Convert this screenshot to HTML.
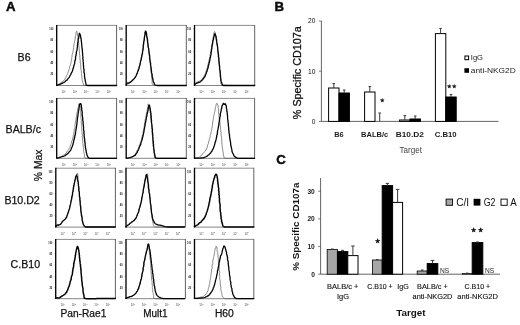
<!DOCTYPE html>
<html lang="en"><head><meta charset="utf-8"><title>Figure</title>
<style>html,body{margin:0;padding:0;background:#fff}body{width:520px;height:325px;overflow:hidden}svg{display:block}text{font-family:"Liberation Sans",sans-serif}</style></head><body>
<svg width="520" height="325" viewBox="0 0 520 325">
<rect width="520" height="325" fill="#fff"/>
<g id="panelA">
<text x="5.9" y="11.1" font-size="13.2" font-weight="bold" fill="#0a0a0a" stroke="#0a0a0a" stroke-width="0.45">A</text>
<path d="M56.60 25.40H116.60" stroke="#808080" stroke-width="0.9" fill="none"/>
<path d="M116.60 25.00V85.50" stroke="#505050" stroke-width="0.9" fill="none"/>
<path d="M56.60 85.50H116.60" stroke="#666" stroke-width="0.8" fill="none"/>
<text x="49.30" y="30.10" font-size="3.2" font-weight="bold" fill="#222" textLength="4.0" lengthAdjust="spacingAndGlyphs">100</text>
<path d="M56.60 29.00 h-1.4" stroke="#888" stroke-width="0.4"/>
<text x="50.40" y="41.40" font-size="3.2" font-weight="bold" fill="#222" textLength="2.9" lengthAdjust="spacingAndGlyphs">80</text>
<path d="M56.60 40.30 h-1.4" stroke="#888" stroke-width="0.4"/>
<text x="50.40" y="52.70" font-size="3.2" font-weight="bold" fill="#222" textLength="2.9" lengthAdjust="spacingAndGlyphs">60</text>
<path d="M56.60 51.60 h-1.4" stroke="#888" stroke-width="0.4"/>
<text x="50.40" y="64.00" font-size="3.2" font-weight="bold" fill="#222" textLength="2.9" lengthAdjust="spacingAndGlyphs">40</text>
<path d="M56.60 62.90 h-1.4" stroke="#888" stroke-width="0.4"/>
<text x="50.40" y="75.30" font-size="3.2" font-weight="bold" fill="#222" textLength="2.9" lengthAdjust="spacingAndGlyphs">20</text>
<path d="M56.60 74.20 h-1.4" stroke="#888" stroke-width="0.4"/>
<text x="63.60" y="93.10" font-size="2.8" text-anchor="middle" fill="#444">10<tspan dy="-1.3" font-size="2.1">1</tspan></text>
<text x="74.90" y="93.10" font-size="2.8" text-anchor="middle" fill="#444">10<tspan dy="-1.3" font-size="2.1">2</tspan></text>
<text x="86.20" y="93.10" font-size="2.8" text-anchor="middle" fill="#444">10<tspan dy="-1.3" font-size="2.1">3</tspan></text>
<text x="97.50" y="93.10" font-size="2.8" text-anchor="middle" fill="#444">10<tspan dy="-1.3" font-size="2.1">4</tspan></text>
<text x="108.80" y="93.10" font-size="2.8" text-anchor="middle" fill="#444">10<tspan dy="-1.3" font-size="2.1">5</tspan></text>
<path d="M56.6 85.5L57.1 85.2L57.8 84.8L58.6 84.3L59.4 83.8L60.3 83.3L61.3 82.4L61.8 82.1L62.5 81.3L63.5 80.8L64.0 80.3L64.4 79.5L65.0 79.1L65.5 78.1L66.1 76.8L66.4 76.4L66.5 75.5L67.1 74.9L67.4 74.4L67.7 73.6L67.9 72.7L68.2 71.9L68.7 70.6L68.7 69.8L69.4 68.9L69.5 67.9L69.7 66.9L69.9 66.0L70.3 65.3L70.5 64.5L70.8 63.6L70.9 62.3L71.2 61.7L71.4 60.6L71.5 59.4L71.8 58.6L71.7 57.4L72.1 56.8L72.0 55.7L72.3 54.5L72.4 53.8L72.8 52.6L72.9 51.7L73.1 50.9L73.4 50.2L73.4 49.2L73.5 47.7L73.7 46.7L73.7 45.9L74.1 44.9L74.0 44.2L74.2 43.4L74.6 42.2L74.6 41.4L74.8 40.6L74.9 39.8L75.2 39.0L75.2 37.9L75.3 36.4L75.9 35.3L75.9 34.0L76.0 33.3L76.0 32.5L76.5 31.6L76.7 31.4L77.0 31.3L77.2 32.3L77.2 33.3L77.7 35.2L77.6 35.7L77.9 36.4L77.9 37.2L78.0 38.3L78.1 39.2L78.4 40.1L78.5 41.7L78.5 42.9L78.8 43.6L78.6 44.5L78.9 45.2L78.8 46.1L79.1 47.1L79.2 47.9L79.1 49.1L79.4 50.0L79.2 50.8L79.4 51.9L79.6 53.2L79.4 54.0L79.8 55.1L79.9 56.0L79.7 57.0L80.0 57.9L79.9 59.0L80.1 59.9L80.4 60.8L80.1 62.1L80.5 63.1L80.4 64.1L80.7 64.8L80.8 66.1L80.8 67.0L80.8 67.9L80.8 68.8L81.1 69.9L81.3 70.7L81.4 71.9L81.5 72.8L81.6 73.5L81.3 74.4L81.5 74.9L81.8 76.3L81.9 77.6L82.1 78.4L82.1 79.6L82.3 80.4L82.4 80.9L82.7 81.9L82.7 82.5L83.2 83.1L83.3 84.3L83.6 85.0L85.0 85.4L85.6 85.5L86.2 85.5L116.6 85.5" fill="none" stroke="#555" stroke-width="0.7" stroke-linejoin="round"/>
<path d="M56.70 25.00V85.80" fill="none" stroke="#050505" stroke-width="1.35" stroke-linecap="butt"/>
<path d="M56.6 85.1L57.2 85.2L57.9 85.0L58.9 84.6L59.9 84.3L61.1 83.7L62.0 83.5L62.7 82.9L63.6 82.6L64.4 82.2L65.3 81.5L65.8 80.9L66.4 80.3L67.3 79.9L67.6 79.1L68.3 78.4L68.9 77.7L69.5 76.8L69.9 75.9L70.3 75.2L70.9 74.4L71.1 73.4L71.6 72.7L72.1 71.7L72.5 70.9L72.7 69.9L73.0 69.1L73.2 68.2L73.5 67.3L73.8 66.6L73.8 65.7L74.1 65.0L74.5 64.0L74.7 63.2L74.7 62.1L74.9 61.1L75.2 60.3L75.4 59.4L75.6 58.5L75.5 57.6L75.6 56.5L76.1 55.5L76.0 54.5L76.4 53.5L76.3 52.8L76.4 51.8L76.8 50.9L77.0 49.9L77.1 48.8L77.2 48.0L77.4 46.9L77.5 46.2L77.4 45.0L77.7 44.2L77.7 43.0L77.9 42.3L78.2 41.3L78.1 40.5L78.2 39.7L78.2 39.0L78.8 37.7L78.9 36.4L79.0 35.5L79.1 34.5L79.2 33.9L79.5 33.3L79.7 33.7L80.5 35.4L80.5 36.1L80.6 36.6L80.7 37.5L80.9 38.2L81.2 39.5L81.2 40.5L81.4 41.7L81.6 42.9L81.6 43.6L81.7 44.5L81.7 45.3L81.9 46.3L81.9 47.3L82.1 48.1L82.2 49.1L82.4 50.0L82.3 51.1L82.5 52.0L82.6 53.2L82.6 53.9L82.6 55.1L82.8 56.2L83.0 57.0L82.8 58.0L82.9 59.1L83.2 60.1L83.1 61.1L83.2 61.9L83.4 62.8L83.3 64.0L83.4 64.9L83.6 66.0L83.5 66.9L83.7 67.9L83.7 68.9L84.1 69.8L84.0 70.7L84.0 71.8L84.0 72.7L84.4 73.3L84.5 74.2L84.5 75.1L84.5 76.3L84.8 77.5L84.8 78.5L85.2 79.5L85.2 80.3L85.3 81.2L85.6 82.1L85.7 82.7L85.9 83.5L86.0 84.0L86.3 85.3L88.0 85.5L116.6 85.5" fill="none" stroke="#050505" stroke-width="1.30" stroke-linejoin="round" stroke-linecap="round"/>
<path d="M126.10 25.40H186.30" stroke="#808080" stroke-width="0.9" fill="none"/>
<path d="M186.30 25.00V85.50" stroke="#505050" stroke-width="0.9" fill="none"/>
<path d="M126.10 85.50H186.30" stroke="#666" stroke-width="0.8" fill="none"/>
<text x="118.80" y="30.10" font-size="3.2" font-weight="bold" fill="#222" textLength="4.0" lengthAdjust="spacingAndGlyphs">100</text>
<path d="M126.10 29.00 h-1.4" stroke="#888" stroke-width="0.4"/>
<text x="119.90" y="41.40" font-size="3.2" font-weight="bold" fill="#222" textLength="2.9" lengthAdjust="spacingAndGlyphs">80</text>
<path d="M126.10 40.30 h-1.4" stroke="#888" stroke-width="0.4"/>
<text x="119.90" y="52.70" font-size="3.2" font-weight="bold" fill="#222" textLength="2.9" lengthAdjust="spacingAndGlyphs">60</text>
<path d="M126.10 51.60 h-1.4" stroke="#888" stroke-width="0.4"/>
<text x="119.90" y="64.00" font-size="3.2" font-weight="bold" fill="#222" textLength="2.9" lengthAdjust="spacingAndGlyphs">40</text>
<path d="M126.10 62.90 h-1.4" stroke="#888" stroke-width="0.4"/>
<text x="119.90" y="75.30" font-size="3.2" font-weight="bold" fill="#222" textLength="2.9" lengthAdjust="spacingAndGlyphs">20</text>
<path d="M126.10 74.20 h-1.4" stroke="#888" stroke-width="0.4"/>
<text x="133.10" y="93.10" font-size="2.8" text-anchor="middle" fill="#444">10<tspan dy="-1.3" font-size="2.1">1</tspan></text>
<text x="144.40" y="93.10" font-size="2.8" text-anchor="middle" fill="#444">10<tspan dy="-1.3" font-size="2.1">2</tspan></text>
<text x="155.70" y="93.10" font-size="2.8" text-anchor="middle" fill="#444">10<tspan dy="-1.3" font-size="2.1">3</tspan></text>
<text x="167.00" y="93.10" font-size="2.8" text-anchor="middle" fill="#444">10<tspan dy="-1.3" font-size="2.1">4</tspan></text>
<text x="178.30" y="93.10" font-size="2.8" text-anchor="middle" fill="#444">10<tspan dy="-1.3" font-size="2.1">5</tspan></text>
<path d="M126.0 85.5L126.5 85.2L127.1 84.7L127.9 84.2L128.6 83.8L129.7 82.8L130.7 82.1L131.2 81.7L132.0 81.0L132.8 80.3L133.2 79.5L133.7 79.0L134.6 78.2L135.1 77.3L135.4 76.5L136.2 75.4L136.4 74.7L136.9 74.0L137.0 73.2L137.4 72.5L137.7 71.7L137.9 70.5L138.2 69.4L138.8 68.6L138.9 67.3L139.2 66.7L139.6 65.9L139.7 64.8L139.8 63.9L140.1 63.2L140.2 62.1L140.7 61.0L140.9 60.5L141.2 59.2L141.2 58.3L141.5 57.5L141.7 56.3L142.0 55.4L142.0 54.5L141.9 53.6L142.4 52.6L142.5 51.6L142.5 50.7L142.6 49.7L143.0 48.7L143.1 48.0L143.3 46.7L143.4 45.9L143.2 44.9L143.4 43.8L143.7 43.3L143.7 42.4L144.0 41.3L144.2 40.6L144.3 39.6L144.4 38.3L144.6 37.3L144.7 36.0L144.8 34.9L144.6 33.6L144.7 32.7L144.9 32.0L145.2 31.4L145.2 30.9L145.3 30.6L145.7 30.6L145.7 31.3L146.1 31.9L146.1 33.1L146.4 34.3L146.4 35.6L146.9 36.8L146.9 37.6L146.9 38.4L147.1 39.2L147.1 40.1L147.3 41.1L147.3 41.8L147.6 43.0L147.9 43.8L147.9 45.0L147.8 46.4L148.1 47.2L148.3 48.0L148.5 48.9L148.3 49.6L148.7 50.6L148.8 51.6L149.0 52.4L148.8 53.3L149.2 54.4L149.1 55.2L149.4 56.5L149.4 57.1L149.3 58.1L149.5 59.1L149.6 60.3L150.0 61.1L150.2 62.1L150.2 63.3L150.4 63.8L150.2 65.0L150.6 65.8L150.4 67.2L150.5 68.0L150.7 69.2L151.0 70.0L151.1 71.3L151.2 72.2L151.4 73.2L151.2 74.1L151.5 75.2L151.4 76.0L151.7 77.1L151.8 77.8L151.8 78.5L152.0 79.1L152.0 80.1L152.2 81.6L152.0 83.2L152.3 84.0L152.6 84.5L153.6 85.0L154.2 85.2L154.8 85.3L155.6 85.4L156.4 85.5L186.3 85.5" fill="none" stroke="#555" stroke-width="0.7" stroke-linejoin="round"/>
<path d="M126.20 25.00V85.80" fill="none" stroke="#050505" stroke-width="1.35" stroke-linecap="butt"/>
<path d="M126.1 85.1L126.4 84.0L127.1 83.0L128.0 83.1L128.9 83.0L129.5 82.7L130.5 82.2L131.2 81.6L131.8 81.1L132.4 80.3L133.0 79.9L133.7 79.0L134.2 78.7L134.8 77.8L135.4 77.0L136.0 76.1L136.4 75.2L136.6 74.4L137.2 73.6L137.2 73.1L137.6 72.2L137.9 71.1L138.3 70.3L138.7 69.2L139.1 68.1L139.2 67.3L139.4 66.3L139.8 65.6L140.0 64.6L140.1 63.8L140.4 62.7L140.5 61.9L140.6 60.9L141.1 59.9L141.3 59.0L141.3 57.9L141.8 56.9L141.8 55.8L141.9 54.9L142.3 54.2L142.5 53.3L142.5 52.3L142.6 51.2L142.9 50.4L143.1 49.3L143.1 48.2L143.3 47.5L143.2 46.5L143.3 45.2L143.6 44.4L143.6 43.6L143.6 42.7L143.8 41.8L143.9 41.1L144.3 39.7L144.2 38.5L144.5 37.2L144.6 36.2L144.9 35.1L145.2 34.1L145.1 32.9L145.2 32.3L145.5 31.7L145.5 31.5L145.8 31.4L146.2 32.1L146.2 32.9L146.7 34.1L146.6 35.6L147.0 36.9L147.0 37.6L147.3 38.5L147.5 39.4L147.7 39.9L147.5 40.7L147.7 41.7L147.7 42.8L147.8 43.7L148.0 44.9L148.2 45.8L148.2 47.0L148.5 47.9L148.8 48.7L148.6 49.4L148.9 50.5L148.9 51.4L149.1 52.2L149.1 53.1L149.4 54.4L149.6 55.2L149.6 56.4L149.8 57.3L149.8 58.3L149.8 59.1L150.1 60.4L150.2 61.1L150.2 62.1L150.5 63.0L150.7 63.9L150.6 65.0L150.8 66.2L151.1 67.2L151.1 67.9L151.2 69.1L151.3 70.0L151.5 71.2L151.5 72.1L151.7 73.0L152.0 74.0L152.1 74.6L152.3 75.4L152.2 76.4L152.3 76.9L152.8 78.5L152.9 79.5L153.1 80.5L153.4 81.7L153.6 82.2L154.0 82.8L154.4 83.7L154.8 84.6L155.3 85.1L157.0 85.4L157.6 85.5L158.3 85.5L186.3 85.5" fill="none" stroke="#050505" stroke-width="1.30" stroke-linejoin="round" stroke-linecap="round"/>
<path d="M194.40 25.40H254.70" stroke="#808080" stroke-width="0.9" fill="none"/>
<path d="M254.70 25.00V85.50" stroke="#505050" stroke-width="0.9" fill="none"/>
<path d="M194.40 85.50H254.70" stroke="#666" stroke-width="0.8" fill="none"/>
<text x="187.10" y="30.10" font-size="3.2" font-weight="bold" fill="#222" textLength="4.0" lengthAdjust="spacingAndGlyphs">100</text>
<path d="M194.40 29.00 h-1.4" stroke="#888" stroke-width="0.4"/>
<text x="188.20" y="41.40" font-size="3.2" font-weight="bold" fill="#222" textLength="2.9" lengthAdjust="spacingAndGlyphs">80</text>
<path d="M194.40 40.30 h-1.4" stroke="#888" stroke-width="0.4"/>
<text x="188.20" y="52.70" font-size="3.2" font-weight="bold" fill="#222" textLength="2.9" lengthAdjust="spacingAndGlyphs">60</text>
<path d="M194.40 51.60 h-1.4" stroke="#888" stroke-width="0.4"/>
<text x="188.20" y="64.00" font-size="3.2" font-weight="bold" fill="#222" textLength="2.9" lengthAdjust="spacingAndGlyphs">40</text>
<path d="M194.40 62.90 h-1.4" stroke="#888" stroke-width="0.4"/>
<text x="188.20" y="75.30" font-size="3.2" font-weight="bold" fill="#222" textLength="2.9" lengthAdjust="spacingAndGlyphs">20</text>
<path d="M194.40 74.20 h-1.4" stroke="#888" stroke-width="0.4"/>
<text x="201.40" y="93.10" font-size="2.8" text-anchor="middle" fill="#444">10<tspan dy="-1.3" font-size="2.1">1</tspan></text>
<text x="212.70" y="93.10" font-size="2.8" text-anchor="middle" fill="#444">10<tspan dy="-1.3" font-size="2.1">2</tspan></text>
<text x="224.00" y="93.10" font-size="2.8" text-anchor="middle" fill="#444">10<tspan dy="-1.3" font-size="2.1">3</tspan></text>
<text x="235.30" y="93.10" font-size="2.8" text-anchor="middle" fill="#444">10<tspan dy="-1.3" font-size="2.1">4</tspan></text>
<text x="246.60" y="93.10" font-size="2.8" text-anchor="middle" fill="#444">10<tspan dy="-1.3" font-size="2.1">5</tspan></text>
<path d="M194.2 85.5L194.6 84.7L195.3 83.6L196.1 82.4L196.8 82.4L197.7 81.8L199.0 81.4L200.0 80.8L200.6 80.6L201.3 79.9L202.1 79.1L203.0 78.1L203.4 76.8L204.1 76.2L204.3 75.7L204.9 74.6L205.3 74.0L205.4 73.0L205.8 72.4L206.1 71.0L206.4 69.8L206.8 69.4L206.9 68.3L207.5 67.8L207.8 66.6L207.7 66.0L208.0 65.0L208.2 63.7L208.4 63.1L208.8 62.0L208.9 61.0L209.1 60.0L209.5 58.9L209.6 58.2L209.9 57.0L210.2 56.3L210.0 55.1L210.2 54.1L210.7 53.3L210.8 52.1L210.6 51.5L211.1 50.5L211.2 49.3L211.4 48.2L211.5 47.4L211.4 46.6L211.6 45.6L211.8 44.7L211.9 44.0L212.4 43.1L212.5 41.9L212.5 41.0L212.6 39.6L212.9 39.0L213.0 38.0L213.1 37.4L213.3 36.4L213.5 35.8L213.8 35.0L213.9 33.5L214.0 32.2L214.7 31.6L214.6 31.6L214.9 32.0L215.1 32.2L215.3 33.3L215.4 34.4L215.7 35.3L215.7 36.6L216.0 37.9L216.2 38.9L216.3 39.3L216.2 40.3L216.5 41.0L216.4 42.0L216.6 42.8L216.9 44.1L217.0 45.0L217.3 46.0L217.5 46.9L217.5 47.7L217.7 48.9L217.7 50.1L217.7 50.9L218.0 51.9L217.8 52.6L218.0 53.5L218.3 54.5L218.2 55.5L218.4 56.5L218.5 57.6L218.5 58.3L218.9 59.6L218.6 60.5L219.0 61.7L218.8 62.2L219.0 63.3L219.3 64.5L219.1 65.2L219.3 66.3L219.3 67.0L219.3 68.1L219.4 69.3L219.7 70.2L219.6 71.1L219.9 72.4L220.0 73.1L220.3 74.3L220.2 75.0L220.2 76.3L220.2 77.0L220.6 77.8L220.7 78.8L220.9 79.4L220.7 79.8L220.9 81.4L220.7 82.8L220.8 83.6L221.3 84.1L222.2 84.6L222.7 84.8L223.4 85.0L224.0 85.1L224.8 85.2L225.6 85.3L226.4 85.3L227.4 85.4L228.3 85.4L229.4 85.4L230.5 85.4L231.6 85.4L232.8 85.5L234.0 85.5L254.7 85.5" fill="none" stroke="#555" stroke-width="0.7" stroke-linejoin="round"/>
<path d="M194.50 25.00V85.80" fill="none" stroke="#050505" stroke-width="1.35" stroke-linecap="butt"/>
<path d="M194.4 85.1L195.0 84.3L196.2 83.3L197.0 83.1L197.7 82.7L198.8 82.5L200.0 82.1L200.8 81.4L201.3 80.9L201.9 80.3L202.7 79.7L203.3 78.7L203.9 78.0L204.4 77.2L204.9 76.5L205.3 75.9L205.4 75.1L205.9 74.1L206.3 73.2L206.6 72.0L207.1 71.1L207.2 70.3L207.4 69.6L207.8 68.5L208.1 67.9L208.1 67.0L208.4 65.8L208.7 64.9L209.0 64.0L209.0 63.0L209.5 62.0L209.6 61.1L209.8 60.0L210.0 59.1L210.1 58.0L210.5 57.2L210.5 56.4L210.8 55.3L211.0 54.4L211.1 53.2L211.0 52.4L211.5 51.3L211.5 50.4L211.6 49.4L211.9 48.4L211.8 47.5L212.1 46.7L212.1 45.8L212.3 45.0L212.6 43.7L212.6 42.8L212.9 41.7L213.0 40.6L213.3 39.9L213.6 38.9L213.6 37.9L213.7 37.2L214.0 36.5L214.2 36.0L214.5 34.0L215.2 33.9L215.3 34.4L215.4 35.1L216.0 36.3L216.2 37.6L216.3 39.1L216.6 39.6L216.6 40.6L216.7 41.3L216.8 42.1L216.9 42.9L217.1 44.0L217.3 44.8L217.4 45.7L217.6 46.7L217.6 47.8L217.7 48.7L217.8 50.0L217.9 51.1L218.1 52.0L218.3 52.8L218.2 53.5L218.4 54.6L218.6 55.4L218.4 56.6L218.8 57.4L218.9 58.3L218.9 59.5L219.0 60.3L218.9 61.5L219.3 62.3L219.1 63.2L219.4 64.3L219.4 65.4L219.6 66.0L219.7 66.8L219.6 68.1L219.7 68.9L219.9 70.1L220.2 71.0L220.2 72.2L220.3 73.2L220.4 74.2L220.3 75.2L220.6 76.0L220.5 77.0L220.6 77.8L220.8 78.6L220.9 79.3L220.8 79.8L221.2 81.4L221.6 82.5L221.9 83.5L222.1 84.1L222.4 84.6L222.4 85.3L224.0 85.5L254.7 85.5" fill="none" stroke="#050505" stroke-width="1.30" stroke-linejoin="round" stroke-linecap="round"/>
<path d="M56.60 98.40H116.60" stroke="#808080" stroke-width="0.9" fill="none"/>
<path d="M116.60 98.00V158.30" stroke="#505050" stroke-width="0.9" fill="none"/>
<path d="M56.60 158.30H116.60" stroke="#666" stroke-width="0.8" fill="none"/>
<text x="49.30" y="103.10" font-size="3.2" font-weight="bold" fill="#222" textLength="4.0" lengthAdjust="spacingAndGlyphs">100</text>
<path d="M56.60 102.00 h-1.4" stroke="#888" stroke-width="0.4"/>
<text x="50.40" y="114.36" font-size="3.2" font-weight="bold" fill="#222" textLength="2.9" lengthAdjust="spacingAndGlyphs">80</text>
<path d="M56.60 113.26 h-1.4" stroke="#888" stroke-width="0.4"/>
<text x="50.40" y="125.62" font-size="3.2" font-weight="bold" fill="#222" textLength="2.9" lengthAdjust="spacingAndGlyphs">60</text>
<path d="M56.60 124.52 h-1.4" stroke="#888" stroke-width="0.4"/>
<text x="50.40" y="136.88" font-size="3.2" font-weight="bold" fill="#222" textLength="2.9" lengthAdjust="spacingAndGlyphs">40</text>
<path d="M56.60 135.78 h-1.4" stroke="#888" stroke-width="0.4"/>
<text x="50.40" y="148.14" font-size="3.2" font-weight="bold" fill="#222" textLength="2.9" lengthAdjust="spacingAndGlyphs">20</text>
<path d="M56.60 147.04 h-1.4" stroke="#888" stroke-width="0.4"/>
<text x="63.60" y="165.90" font-size="2.8" text-anchor="middle" fill="#444">10<tspan dy="-1.3" font-size="2.1">1</tspan></text>
<text x="74.90" y="165.90" font-size="2.8" text-anchor="middle" fill="#444">10<tspan dy="-1.3" font-size="2.1">2</tspan></text>
<text x="86.20" y="165.90" font-size="2.8" text-anchor="middle" fill="#444">10<tspan dy="-1.3" font-size="2.1">3</tspan></text>
<text x="97.50" y="165.90" font-size="2.8" text-anchor="middle" fill="#444">10<tspan dy="-1.3" font-size="2.1">4</tspan></text>
<text x="108.80" y="165.90" font-size="2.8" text-anchor="middle" fill="#444">10<tspan dy="-1.3" font-size="2.1">5</tspan></text>
<path d="M56.6 158.3L57.2 158.1L58.1 157.7L59.1 157.3L60.1 156.9L61.2 156.6L62.0 156.0L62.8 155.3L63.8 155.0L64.3 154.6L65.3 153.9L66.0 152.8L66.7 152.3L67.0 152.0L67.4 151.1L68.1 150.3L68.8 149.6L68.9 148.8L69.3 148.1L70.2 147.2L70.1 146.3L70.5 145.5L70.8 144.6L71.0 143.9L71.3 143.2L71.5 142.3L71.8 141.0L72.3 140.2L72.6 139.2L72.8 137.9L73.1 137.0L73.4 136.0L73.2 135.4L73.7 134.4L73.8 133.6L73.8 132.6L74.1 131.4L74.1 130.7L74.3 129.6L74.4 128.6L74.8 127.7L75.0 126.6L74.9 125.6L75.0 124.6L75.3 123.8L75.3 122.7L75.4 121.9L75.8 120.9L76.1 120.0L76.0 118.9L76.1 118.0L76.5 116.9L76.7 115.8L76.6 114.9L76.8 114.1L77.1 113.3L77.0 112.4L77.3 111.5L77.5 110.7L77.5 110.0L77.9 108.8L78.3 107.3L78.5 106.3L78.7 105.4L78.6 104.5L79.2 103.6L79.2 103.8L79.3 103.9L79.8 104.2L79.6 104.8L80.1 105.9L80.0 107.1L80.4 108.4L80.2 110.2L80.4 110.6L80.7 111.3L80.4 112.4L80.6 112.9L80.9 113.8L81.0 114.8L80.8 115.7L81.0 116.8L81.0 117.8L81.0 118.9L81.4 119.9L81.4 120.7L81.2 121.8L81.2 123.1L81.6 124.1L81.5 124.8L81.6 125.8L81.8 126.8L81.6 127.9L81.7 128.8L81.8 129.7L81.8 130.7L82.0 131.4L82.1 132.5L82.0 133.2L82.2 134.1L82.5 135.2L82.2 136.2L82.3 137.1L82.5 138.1L82.5 139.0L82.6 140.1L82.7 140.9L82.8 141.5L82.7 142.6L82.9 143.2L83.0 144.2L83.1 145.1L83.2 146.1L83.4 147.4L83.5 148.4L83.6 149.6L83.5 150.6L83.6 151.5L83.8 152.3L83.9 152.8L84.2 153.8L84.4 154.5L84.6 154.8L84.5 156.3L84.7 157.3L85.0 157.9L86.0 158.3L116.6 158.3" fill="none" stroke="#555" stroke-width="0.7" stroke-linejoin="round"/>
<path d="M56.70 98.00V158.60" fill="none" stroke="#050505" stroke-width="1.35" stroke-linecap="butt"/>
<path d="M56.6 157.9L57.6 158.2L58.3 158.0L59.1 157.7L60.1 157.3L61.1 157.0L62.1 156.6L63.1 156.4L64.2 156.0L65.1 155.6L65.8 155.1L66.5 154.4L67.5 153.9L68.1 153.2L68.6 152.7L69.2 151.9L70.2 150.9L70.5 150.4L70.9 149.7L71.3 148.6L71.5 148.0L72.1 147.0L72.3 146.0L72.8 145.1L73.0 144.1L73.1 143.3L73.5 142.6L73.6 141.5L73.7 140.9L74.0 139.8L74.3 139.0L74.4 137.9L74.8 137.1L74.8 135.9L75.2 135.1L75.3 134.0L75.6 133.0L75.5 131.9L75.7 131.2L75.9 130.4L76.1 129.2L76.2 128.3L76.4 127.3L76.5 126.3L76.7 125.3L76.8 124.3L77.0 123.3L77.0 122.4L77.2 121.4L77.2 120.4L77.4 119.7L77.3 118.7L77.5 118.2L77.7 116.9L77.8 115.9L78.1 114.9L78.0 113.8L78.3 112.7L78.5 111.9L78.4 111.1L78.7 110.2L78.9 109.4L78.8 108.5L79.0 108.0L79.3 106.6L79.4 105.2L79.7 104.3L80.3 103.9L80.3 103.7L80.7 103.6L81.0 104.2L81.3 105.0L81.3 106.3L81.7 108.1L81.7 108.5L81.7 109.4L81.7 110.3L82.1 111.1L82.1 111.8L82.3 112.6L82.2 113.5L82.2 114.8L82.3 115.7L82.5 116.8L82.7 117.8L82.8 118.6L82.7 119.8L82.9 121.0L83.1 122.1L83.2 122.9L83.1 123.7L83.3 124.6L83.3 125.4L83.4 126.2L83.6 127.1L83.6 128.2L83.5 129.2L83.7 130.3L83.9 131.1L84.0 132.2L83.8 133.1L84.1 134.1L84.2 134.8L84.1 135.8L84.2 136.7L84.4 137.6L84.4 138.3L84.7 139.3L84.6 140.0L84.7 141.2L84.9 142.1L85.1 143.4L85.2 144.2L85.1 145.4L85.5 146.4L85.4 147.4L85.6 148.2L85.8 149.2L85.9 150.1L86.2 150.7L86.2 151.8L86.3 152.4L86.5 152.8L86.9 154.6L87.2 155.6L87.6 156.3L88.0 157.1L88.4 157.6L89.1 158.2L91.0 158.3L116.6 158.3" fill="none" stroke="#050505" stroke-width="1.30" stroke-linejoin="round" stroke-linecap="round"/>
<path d="M126.10 98.40H186.30" stroke="#808080" stroke-width="0.9" fill="none"/>
<path d="M186.30 98.00V158.30" stroke="#505050" stroke-width="0.9" fill="none"/>
<path d="M126.10 158.30H186.30" stroke="#666" stroke-width="0.8" fill="none"/>
<text x="118.80" y="103.10" font-size="3.2" font-weight="bold" fill="#222" textLength="4.0" lengthAdjust="spacingAndGlyphs">100</text>
<path d="M126.10 102.00 h-1.4" stroke="#888" stroke-width="0.4"/>
<text x="119.90" y="114.36" font-size="3.2" font-weight="bold" fill="#222" textLength="2.9" lengthAdjust="spacingAndGlyphs">80</text>
<path d="M126.10 113.26 h-1.4" stroke="#888" stroke-width="0.4"/>
<text x="119.90" y="125.62" font-size="3.2" font-weight="bold" fill="#222" textLength="2.9" lengthAdjust="spacingAndGlyphs">60</text>
<path d="M126.10 124.52 h-1.4" stroke="#888" stroke-width="0.4"/>
<text x="119.90" y="136.88" font-size="3.2" font-weight="bold" fill="#222" textLength="2.9" lengthAdjust="spacingAndGlyphs">40</text>
<path d="M126.10 135.78 h-1.4" stroke="#888" stroke-width="0.4"/>
<text x="119.90" y="148.14" font-size="3.2" font-weight="bold" fill="#222" textLength="2.9" lengthAdjust="spacingAndGlyphs">20</text>
<path d="M126.10 147.04 h-1.4" stroke="#888" stroke-width="0.4"/>
<text x="133.10" y="165.90" font-size="2.8" text-anchor="middle" fill="#444">10<tspan dy="-1.3" font-size="2.1">1</tspan></text>
<text x="144.40" y="165.90" font-size="2.8" text-anchor="middle" fill="#444">10<tspan dy="-1.3" font-size="2.1">2</tspan></text>
<text x="155.70" y="165.90" font-size="2.8" text-anchor="middle" fill="#444">10<tspan dy="-1.3" font-size="2.1">3</tspan></text>
<text x="167.00" y="165.90" font-size="2.8" text-anchor="middle" fill="#444">10<tspan dy="-1.3" font-size="2.1">4</tspan></text>
<text x="178.30" y="165.90" font-size="2.8" text-anchor="middle" fill="#444">10<tspan dy="-1.3" font-size="2.1">5</tspan></text>
<path d="M126.0 158.3L126.7 158.1L127.6 157.9L128.8 157.7L129.9 157.4L131.0 157.0L132.0 156.5L133.1 156.2L133.8 155.6L134.5 154.9L135.1 154.2L136.1 153.1L136.2 152.5L136.6 151.6L137.2 150.5L137.6 150.0L138.1 148.9L138.6 147.9L139.0 147.0L139.0 146.2L139.4 144.9L140.0 144.0L140.2 143.5L140.5 142.5L140.9 141.9L141.1 140.9L141.2 140.0L141.8 139.3L141.6 138.0L142.0 137.3L142.2 136.0L142.7 134.9L143.0 134.2L143.1 133.5L143.0 132.7L143.3 131.5L143.3 130.8L143.7 129.7L144.0 128.7L144.0 127.6L144.1 127.0L144.3 125.7L144.4 125.0L144.5 124.1L144.6 123.2L145.0 122.2L145.0 121.0L145.1 120.4L145.2 119.4L145.7 118.6L146.0 117.5L146.0 116.4L146.3 115.2L146.4 114.0L146.4 113.1L146.7 112.1L147.1 111.4L147.2 110.7L147.1 109.9L147.6 108.9L147.5 107.8L148.0 106.5L148.0 105.3L148.0 104.2L148.4 103.8L148.4 103.8L148.6 104.1L148.9 104.5L149.3 105.4L149.4 106.3L149.5 107.6L149.6 109.0L150.0 110.2L150.3 111.0L150.0 111.7L150.1 112.5L150.5 113.6L150.5 114.4L150.7 115.2L150.6 115.9L150.6 116.9L150.7 118.0L150.9 118.9L151.0 119.9L151.0 120.7L151.3 121.7L151.4 123.1L151.4 124.1L151.6 125.1L151.6 126.1L151.8 126.7L151.8 127.7L151.8 128.7L152.1 129.6L152.1 130.3L152.1 131.5L152.3 132.2L152.0 133.6L152.2 134.5L152.4 135.3L152.4 136.4L152.7 137.4L152.7 138.2L152.7 139.3L152.8 140.4L152.6 141.4L152.9 141.9L152.9 142.7L152.9 143.9L153.2 144.7L153.0 145.1L153.1 146.0L153.4 147.2L153.6 148.6L153.5 149.8L153.5 150.7L153.7 151.5L154.0 152.5L154.1 153.3L154.4 154.2L154.2 154.6L154.7 155.4L154.4 155.9L154.8 157.8L156.0 158.3L186.3 158.3" fill="none" stroke="#555" stroke-width="0.7" stroke-linejoin="round"/>
<path d="M126.20 98.00V158.60" fill="none" stroke="#050505" stroke-width="1.35" stroke-linecap="butt"/>
<path d="M126.1 157.9L127.0 158.2L127.8 158.1L128.8 157.9L129.9 157.7L131.0 157.4L132.0 157.0L132.9 156.5L133.6 156.2L134.4 155.7L135.4 155.1L136.0 154.0L136.4 153.4L137.0 152.6L137.4 151.9L137.7 151.0L138.5 149.8L138.7 149.2L139.0 148.1L139.6 146.8L140.0 145.8L140.4 145.1L140.8 144.5L140.8 143.5L141.0 142.9L141.3 141.8L141.6 141.2L141.9 140.1L142.2 139.2L142.4 138.4L142.7 137.1L143.1 135.9L143.1 135.4L143.3 134.6L143.6 133.6L143.6 132.6L144.0 131.8L144.0 130.8L144.1 130.1L144.3 129.0L144.6 128.0L144.7 127.0L144.8 126.2L145.2 125.1L145.1 124.3L145.3 123.1L145.6 122.5L145.7 121.4L146.0 120.6L145.9 120.2L146.3 118.9L146.3 117.9L146.6 116.5L146.9 115.9L146.9 114.8L147.3 113.8L147.3 113.1L147.5 112.4L147.8 111.6L147.9 110.6L148.1 110.0L148.3 108.5L148.5 107.1L148.9 106.0L148.8 105.5L149.2 105.1L149.4 105.1L149.6 105.9L149.8 106.9L150.1 108.3L150.3 110.0L150.4 110.5L150.6 111.3L150.7 112.0L150.7 112.9L151.0 113.6L150.9 114.8L151.1 115.5L151.3 116.4L151.1 117.4L151.3 118.7L151.3 119.5L151.6 120.5L151.4 121.8L151.6 122.8L151.7 123.9L152.0 124.9L151.9 126.0L152.1 126.7L152.1 127.7L152.2 128.5L152.4 129.4L152.5 130.4L152.3 131.3L152.4 132.3L152.7 133.4L152.6 134.6L152.9 135.5L152.7 136.3L152.9 137.3L152.9 138.3L152.9 139.4L153.1 140.2L153.2 141.2L153.3 141.9L153.4 142.9L153.3 143.9L153.6 144.5L153.4 145.3L153.6 146.0L153.6 147.4L153.8 148.8L154.0 149.8L154.3 150.9L154.1 151.8L154.2 152.7L154.7 153.7L154.7 154.2L154.7 154.9L155.0 155.6L155.2 157.1L155.5 157.9L157.0 158.3L186.3 158.3" fill="none" stroke="#050505" stroke-width="1.30" stroke-linejoin="round" stroke-linecap="round"/>
<path d="M194.40 98.40H254.60" stroke="#808080" stroke-width="0.9" fill="none"/>
<path d="M254.60 98.00V158.30" stroke="#505050" stroke-width="0.9" fill="none"/>
<path d="M194.40 158.30H254.60" stroke="#666" stroke-width="0.8" fill="none"/>
<text x="187.10" y="103.10" font-size="3.2" font-weight="bold" fill="#222" textLength="4.0" lengthAdjust="spacingAndGlyphs">100</text>
<path d="M194.40 102.00 h-1.4" stroke="#888" stroke-width="0.4"/>
<text x="188.20" y="114.36" font-size="3.2" font-weight="bold" fill="#222" textLength="2.9" lengthAdjust="spacingAndGlyphs">80</text>
<path d="M194.40 113.26 h-1.4" stroke="#888" stroke-width="0.4"/>
<text x="188.20" y="125.62" font-size="3.2" font-weight="bold" fill="#222" textLength="2.9" lengthAdjust="spacingAndGlyphs">60</text>
<path d="M194.40 124.52 h-1.4" stroke="#888" stroke-width="0.4"/>
<text x="188.20" y="136.88" font-size="3.2" font-weight="bold" fill="#222" textLength="2.9" lengthAdjust="spacingAndGlyphs">40</text>
<path d="M194.40 135.78 h-1.4" stroke="#888" stroke-width="0.4"/>
<text x="188.20" y="148.14" font-size="3.2" font-weight="bold" fill="#222" textLength="2.9" lengthAdjust="spacingAndGlyphs">20</text>
<path d="M194.40 147.04 h-1.4" stroke="#888" stroke-width="0.4"/>
<text x="201.40" y="165.90" font-size="2.8" text-anchor="middle" fill="#444">10<tspan dy="-1.3" font-size="2.1">1</tspan></text>
<text x="212.70" y="165.90" font-size="2.8" text-anchor="middle" fill="#444">10<tspan dy="-1.3" font-size="2.1">2</tspan></text>
<text x="224.00" y="165.90" font-size="2.8" text-anchor="middle" fill="#444">10<tspan dy="-1.3" font-size="2.1">3</tspan></text>
<text x="235.30" y="165.90" font-size="2.8" text-anchor="middle" fill="#444">10<tspan dy="-1.3" font-size="2.1">4</tspan></text>
<text x="246.60" y="165.90" font-size="2.8" text-anchor="middle" fill="#444">10<tspan dy="-1.3" font-size="2.1">5</tspan></text>
<path d="M194.2 158.3L195.0 158.2L196.2 158.1L197.4 157.9L198.4 157.6L199.3 157.1L199.9 156.5L200.8 155.9L201.7 155.0L202.3 154.1L203.0 153.5L203.6 152.6L204.7 151.7L205.3 151.1L205.9 150.0L206.4 149.2L207.0 147.9L207.2 147.1L207.5 146.4L207.5 145.5L207.8 144.7L208.4 143.4L208.5 142.5L208.5 141.8L209.1 140.8L209.2 139.9L209.5 138.8L209.8 137.8L210.2 136.5L210.1 135.7L210.5 134.7L210.8 134.0L211.0 132.8L211.2 131.7L211.5 130.6L211.8 129.7L211.7 128.6L212.0 127.8L212.2 126.7L212.4 125.9L212.4 125.0L212.6 123.9L212.6 122.9L212.7 121.8L213.2 120.8L213.0 120.2L213.3 119.1L213.6 118.2L213.6 117.3L213.6 116.4L213.9 115.4L214.1 114.6L214.3 113.6L214.4 112.8L214.8 111.7L214.9 111.2L214.9 109.8L215.4 109.0L215.2 107.8L215.8 106.5L215.9 105.5L216.1 104.7L216.2 103.9L216.5 103.7L216.9 103.2L217.3 104.1L218.2 106.1L218.3 106.7L218.1 107.3L218.5 108.3L218.6 109.2L218.6 110.2L218.8 111.1L218.5 112.0L218.6 113.1L219.0 114.1L218.9 115.0L219.0 116.1L219.2 117.2L219.1 117.9L219.2 119.1L219.6 119.9L219.8 120.5L219.9 121.6L219.9 122.5L220.1 123.3L220.0 124.1L220.3 125.1L220.1 125.9L220.4 126.8L220.5 127.9L220.6 128.8L220.6 129.6L220.9 130.4L220.6 131.0L221.0 132.3L221.1 133.0L221.1 133.8L221.2 135.2L221.2 135.9L221.5 136.9L221.4 137.7L221.7 139.0L221.8 139.8L221.8 141.0L221.8 142.0L221.9 142.7L221.8 144.0L222.2 144.6L222.0 145.7L222.2 146.7L222.3 147.7L222.6 148.7L222.8 149.8L222.8 150.9L222.9 151.7L223.3 152.8L223.2 153.5L223.4 154.2L223.3 155.0L223.9 156.4L223.9 157.6L225.0 158.2L225.5 158.3L254.6 158.3" fill="none" stroke="#555" stroke-width="0.7" stroke-linejoin="round"/>
<path d="M194.50 98.00V158.60" fill="none" stroke="#050505" stroke-width="1.35" stroke-linecap="butt"/>
<path d="M194.4 157.9L195.2 158.2L195.9 158.2L196.7 158.2L197.8 158.2L198.9 158.1L200.0 158.1L201.2 158.0L202.2 157.9L203.0 157.8L204.3 157.5L205.3 157.0L206.3 156.5L207.2 156.1L207.8 155.3L208.7 155.0L209.4 154.1L210.0 153.5L210.8 152.8L211.2 152.0L212.0 151.1L212.2 150.1L212.9 149.3L213.4 148.5L213.7 147.4L214.0 146.5L214.4 145.7L214.5 144.8L215.0 143.7L214.9 142.8L215.4 141.9L215.7 141.1L215.9 140.0L216.1 139.4L216.3 138.5L216.5 137.5L216.7 136.6L216.7 135.5L217.2 134.5L217.2 133.9L217.4 133.0L217.5 132.1L217.5 131.1L217.7 130.3L218.0 129.2L218.2 128.1L218.4 126.8L218.5 126.1L218.8 125.3L218.9 124.5L218.9 123.7L219.0 122.6L219.3 121.8L219.4 120.4L219.5 119.7L219.8 118.5L219.7 117.5L220.1 116.5L220.3 115.6L220.3 114.9L220.3 114.0L220.6 112.8L220.8 111.9L221.2 110.7L221.1 109.8L221.5 108.8L221.8 107.8L221.9 107.0L221.9 106.3L222.2 105.5L222.5 105.2L223.2 103.4L223.6 103.4L224.2 104.3L225.2 103.8L225.6 104.1L225.6 104.8L226.1 105.5L226.3 106.3L226.3 107.2L226.5 108.3L226.8 109.5L226.8 111.1L227.2 111.9L227.1 112.5L227.3 113.5L227.3 114.3L227.5 115.4L227.5 116.1L227.6 117.4L227.6 118.4L227.7 119.3L227.9 120.3L228.0 121.5L228.0 122.5L228.3 123.3L228.3 124.4L228.4 125.2L228.4 126.1L228.6 127.0L228.7 128.2L228.7 129.3L228.8 130.1L229.0 131.0L229.0 131.9L229.0 132.7L229.3 133.6L229.5 134.5L229.4 135.3L229.6 136.0L229.6 137.1L229.7 137.8L229.9 138.7L230.0 139.7L230.2 140.6L230.4 141.8L230.6 142.4L230.6 143.4L230.7 144.2L230.7 145.1L231.1 146.1L231.3 147.0L231.5 148.4L231.8 149.1L231.9 150.2L231.9 151.0L232.2 151.7L232.6 153.0L233.3 154.1L233.8 155.2L234.1 155.9L235.2 156.9L236.2 157.6L237.2 158.1L238.8 158.3L254.6 158.3" fill="none" stroke="#050505" stroke-width="1.30" stroke-linejoin="round" stroke-linecap="round"/>
<path d="M55.70 168.20H115.40" stroke="#808080" stroke-width="0.9" fill="none"/>
<path d="M115.40 167.80V227.10" stroke="#505050" stroke-width="0.9" fill="none"/>
<path d="M55.70 227.10H115.40" stroke="#666" stroke-width="0.8" fill="none"/>
<text x="48.40" y="172.90" font-size="3.2" font-weight="bold" fill="#222" textLength="4.0" lengthAdjust="spacingAndGlyphs">100</text>
<path d="M55.70 171.80 h-1.4" stroke="#888" stroke-width="0.4"/>
<text x="49.50" y="183.96" font-size="3.2" font-weight="bold" fill="#222" textLength="2.9" lengthAdjust="spacingAndGlyphs">80</text>
<path d="M55.70 182.86 h-1.4" stroke="#888" stroke-width="0.4"/>
<text x="49.50" y="195.02" font-size="3.2" font-weight="bold" fill="#222" textLength="2.9" lengthAdjust="spacingAndGlyphs">60</text>
<path d="M55.70 193.92 h-1.4" stroke="#888" stroke-width="0.4"/>
<text x="49.50" y="206.08" font-size="3.2" font-weight="bold" fill="#222" textLength="2.9" lengthAdjust="spacingAndGlyphs">40</text>
<path d="M55.70 204.98 h-1.4" stroke="#888" stroke-width="0.4"/>
<text x="49.50" y="217.14" font-size="3.2" font-weight="bold" fill="#222" textLength="2.9" lengthAdjust="spacingAndGlyphs">20</text>
<path d="M55.70 216.04 h-1.4" stroke="#888" stroke-width="0.4"/>
<text x="62.70" y="234.70" font-size="2.8" text-anchor="middle" fill="#444">10<tspan dy="-1.3" font-size="2.1">1</tspan></text>
<text x="74.00" y="234.70" font-size="2.8" text-anchor="middle" fill="#444">10<tspan dy="-1.3" font-size="2.1">2</tspan></text>
<text x="85.30" y="234.70" font-size="2.8" text-anchor="middle" fill="#444">10<tspan dy="-1.3" font-size="2.1">3</tspan></text>
<text x="96.60" y="234.70" font-size="2.8" text-anchor="middle" fill="#444">10<tspan dy="-1.3" font-size="2.1">4</tspan></text>
<text x="107.90" y="234.70" font-size="2.8" text-anchor="middle" fill="#444">10<tspan dy="-1.3" font-size="2.1">5</tspan></text>
<path d="M55.6 227.0L56.2 226.7L57.1 226.2L58.1 225.6L59.3 225.1L59.9 224.3L60.7 223.7L61.2 223.2L61.9 222.3L62.3 221.7L63.1 221.1L63.7 220.6L64.3 219.8L64.9 219.4L65.3 218.4L65.9 217.7L66.4 216.8L66.7 216.0L67.1 215.4L67.5 214.7L67.5 213.8L67.9 212.9L68.6 211.5L68.6 210.5L69.2 209.7L69.4 208.9L69.4 208.1L69.6 207.1L69.9 206.4L70.0 205.4L70.4 204.6L70.5 203.5L70.8 202.6L71.1 201.5L71.0 200.4L71.4 199.8L71.6 198.7L72.0 197.9L71.8 196.7L72.1 195.8L72.3 194.7L72.4 194.0L72.5 192.8L72.9 191.8L73.1 190.9L73.2 189.9L73.2 188.8L73.2 188.2L73.4 186.9L73.9 186.2L73.9 185.5L74.1 184.5L74.2 183.4L74.6 182.0L74.7 181.1L74.9 180.3L75.4 179.1L75.6 178.5L75.6 177.7L76.1 177.0L76.5 175.4L77.1 174.2L77.3 173.1L77.5 173.2L77.7 173.6L77.7 174.3L77.7 175.0L78.0 175.7L78.0 177.1L78.2 178.1L78.0 179.1L78.1 180.4L78.3 181.5L78.5 182.4L78.3 183.5L78.7 184.1L78.4 184.7L78.8 185.9L78.7 186.7L79.0 187.3L79.1 188.7L79.2 189.5L79.1 190.4L79.1 191.4L79.4 192.2L79.2 193.0L79.5 194.3L79.6 195.2L79.6 195.9L79.7 196.9L80.0 197.9L79.9 198.9L80.0 200.0L80.2 200.9L80.2 201.7L80.3 203.0L80.6 203.8L80.5 204.6L80.8 205.8L80.7 206.6L80.8 207.8L80.8 208.6L81.0 209.6L80.9 210.3L81.1 211.5L81.2 212.0L81.3 212.9L81.7 214.1L81.9 215.2L81.7 216.2L82.0 217.5L82.3 218.6L82.4 219.3L82.7 220.3L82.6 221.1L82.9 222.1L82.9 222.6L83.0 223.4L83.6 224.6L83.6 225.7L84.1 226.3L85.2 226.8L85.8 226.9L86.4 227.0L87.1 227.1L87.8 227.1L91.4 227.1L92.5 227.0L93.6 227.0L94.8 227.0L96.0 227.0L96.8 227.0L97.6 227.0L98.5 227.0L99.4 227.0L100.4 227.0L101.5 227.0L102.5 227.0L103.6 227.0L104.7 227.0L105.8 227.0L106.9 227.0L108.0 227.0L109.0 227.0L110.1 227.0L111.0 227.0L111.9 227.0L112.8 227.0L113.6 227.0L114.3 227.0L114.9 227.0L115.4 227.0" fill="none" stroke="#555" stroke-width="0.7" stroke-linejoin="round"/>
<path d="M55.80 167.80V227.40" fill="none" stroke="#050505" stroke-width="1.35" stroke-linecap="butt"/>
<path d="M55.7 226.7L56.2 225.9L56.9 225.1L57.9 224.8L59.1 225.0L60.1 224.5L60.8 224.1L61.2 223.5L61.9 222.4L62.3 221.6L62.9 221.1L63.8 220.3L64.5 219.8L65.2 219.2L66.0 218.1L66.5 217.5L66.8 216.5L67.0 215.9L67.3 215.0L67.6 214.2L68.0 213.0L68.5 211.9L68.5 211.0L69.0 209.9L69.2 209.3L69.6 208.5L69.8 207.4L69.9 206.6L70.0 205.9L70.3 205.0L70.6 203.9L70.7 203.0L70.9 201.9L71.2 200.9L71.3 200.1L71.7 199.0L71.6 198.2L71.8 197.1L72.2 196.5L72.2 195.4L72.6 194.4L72.5 193.3L72.6 192.5L73.0 191.3L73.1 190.3L73.3 189.4L73.5 188.5L73.4 187.6L73.8 186.5L73.7 185.7L74.1 185.2L74.2 184.0L74.5 182.7L74.7 181.8L74.9 180.7L75.2 179.6L75.3 178.8L75.5 178.0L75.6 177.2L75.8 176.4L76.1 176.2L76.6 175.0L76.7 175.5L76.9 176.1L77.3 177.0L77.2 178.1L77.4 179.1L77.8 180.6L77.9 181.8L78.3 182.5L78.2 183.5L78.5 184.3L78.3 185.1L78.4 185.9L78.7 187.0L78.8 187.9L78.8 189.1L78.8 190.1L78.9 191.0L79.3 192.0L79.4 193.0L79.3 194.2L79.4 194.9L79.4 196.0L79.5 196.8L79.8 197.9L79.9 198.8L79.8 199.8L80.1 201.0L80.1 201.7L80.2 202.7L80.2 203.6L80.2 205.0L80.5 205.7L80.6 206.6L80.7 207.8L80.8 208.7L80.8 209.7L80.8 210.4L80.9 211.5L81.0 212.1L81.2 212.9L81.3 214.3L81.4 215.2L81.8 216.5L82.0 217.2L82.2 218.3L82.0 219.4L82.2 220.3L82.3 220.7L82.6 221.7L82.9 222.5L82.9 223.1L83.4 224.6L84.0 225.5L84.4 226.1L85.0 226.6L85.6 227.0L86.3 227.0L88.0 227.0L88.6 227.0L89.3 227.0L90.1 227.0L90.9 227.0L91.8 227.0L92.7 227.0L93.7 227.0L94.7 227.0L95.8 227.0L96.8 227.0L97.9 227.0L98.9 227.0L100.0 227.0L100.8 227.0L101.8 227.0L102.7 227.0L103.7 227.0L104.8 227.0L105.8 227.0L106.9 227.0L107.9 227.0L109.0 227.0L110.0 227.0L111.0 227.0L111.9 227.0L112.8 227.0L113.6 227.0L114.3 227.0L114.9 227.0L115.4 227.0" fill="none" stroke="#050505" stroke-width="1.30" stroke-linejoin="round" stroke-linecap="round"/>
<path d="M125.90 168.20H185.40" stroke="#808080" stroke-width="0.9" fill="none"/>
<path d="M185.40 167.80V227.10" stroke="#505050" stroke-width="0.9" fill="none"/>
<path d="M125.90 227.10H185.40" stroke="#666" stroke-width="0.8" fill="none"/>
<text x="118.60" y="172.90" font-size="3.2" font-weight="bold" fill="#222" textLength="4.0" lengthAdjust="spacingAndGlyphs">100</text>
<path d="M125.90 171.80 h-1.4" stroke="#888" stroke-width="0.4"/>
<text x="119.70" y="183.96" font-size="3.2" font-weight="bold" fill="#222" textLength="2.9" lengthAdjust="spacingAndGlyphs">80</text>
<path d="M125.90 182.86 h-1.4" stroke="#888" stroke-width="0.4"/>
<text x="119.70" y="195.02" font-size="3.2" font-weight="bold" fill="#222" textLength="2.9" lengthAdjust="spacingAndGlyphs">60</text>
<path d="M125.90 193.92 h-1.4" stroke="#888" stroke-width="0.4"/>
<text x="119.70" y="206.08" font-size="3.2" font-weight="bold" fill="#222" textLength="2.9" lengthAdjust="spacingAndGlyphs">40</text>
<path d="M125.90 204.98 h-1.4" stroke="#888" stroke-width="0.4"/>
<text x="119.70" y="217.14" font-size="3.2" font-weight="bold" fill="#222" textLength="2.9" lengthAdjust="spacingAndGlyphs">20</text>
<path d="M125.90 216.04 h-1.4" stroke="#888" stroke-width="0.4"/>
<text x="132.90" y="234.70" font-size="2.8" text-anchor="middle" fill="#444">10<tspan dy="-1.3" font-size="2.1">1</tspan></text>
<text x="144.20" y="234.70" font-size="2.8" text-anchor="middle" fill="#444">10<tspan dy="-1.3" font-size="2.1">2</tspan></text>
<text x="155.50" y="234.70" font-size="2.8" text-anchor="middle" fill="#444">10<tspan dy="-1.3" font-size="2.1">3</tspan></text>
<text x="166.80" y="234.70" font-size="2.8" text-anchor="middle" fill="#444">10<tspan dy="-1.3" font-size="2.1">4</tspan></text>
<text x="178.10" y="234.70" font-size="2.8" text-anchor="middle" fill="#444">10<tspan dy="-1.3" font-size="2.1">5</tspan></text>
<path d="M125.4 227.0L126.0 226.5L126.9 225.8L127.8 225.2L128.6 224.4L129.5 224.1L130.3 223.3L131.2 222.6L131.8 222.0L132.8 221.5L133.2 220.8L134.2 220.2L134.6 219.2L135.6 218.7L135.9 217.7L136.4 216.9L136.7 216.2L137.0 215.3L137.3 214.6L137.9 213.5L137.8 212.6L138.5 211.7L138.5 210.8L139.0 209.4L139.3 208.8L139.6 208.1L139.8 207.3L139.9 206.4L140.2 205.4L140.3 204.5L140.5 203.7L140.7 202.6L141.3 201.7L141.5 200.6L141.4 199.8L141.7 198.8L142.0 197.6L142.2 196.7L142.5 195.8L142.4 194.8L142.5 194.0L142.7 192.8L143.1 191.7L143.4 190.9L143.3 189.8L143.6 188.8L143.8 187.8L143.9 186.9L144.2 185.9L144.3 185.0L144.2 184.2L144.6 183.4L144.6 182.2L145.0 181.0L144.9 179.8L145.3 178.8L145.2 178.2L145.4 177.1L145.7 176.7L146.3 174.9L146.9 173.8L147.2 173.7L147.5 174.3L147.5 174.8L147.7 175.4L147.7 176.2L148.1 177.2L147.8 178.6L147.9 179.7L148.1 181.1L148.3 182.1L148.3 183.4L148.6 184.3L148.7 185.0L148.9 185.8L148.8 186.9L149.0 187.6L149.1 188.6L149.0 189.4L149.3 190.4L149.2 191.4L149.2 192.3L149.7 193.3L149.8 194.2L149.7 195.4L149.8 196.6L150.2 197.3L149.9 198.6L150.3 199.4L150.1 200.1L150.5 201.3L150.5 202.1L150.5 203.0L150.6 204.1L150.7 205.0L150.8 206.1L151.2 206.9L151.2 208.1L151.0 208.8L151.4 209.8L151.2 210.7L151.6 211.7L151.3 212.6L151.6 213.5L151.6 214.5L151.9 215.1L151.8 215.8L151.8 216.6L152.1 218.0L152.5 219.1L152.4 220.2L152.7 221.1L152.8 222.1L152.9 223.1L153.3 223.7L153.2 224.5L153.5 225.2L153.9 226.2L154.3 226.7L155.6 227.0L156.2 227.1L156.9 227.1L161.3 227.1L162.3 227.1L163.5 227.0L164.7 227.0L166.0 227.0L166.8 227.0L167.6 227.0L168.5 227.0L169.5 227.0L170.5 227.0L171.6 227.0L172.6 227.0L173.7 227.0L174.8 227.0L175.9 227.0L177.0 227.0L178.1 227.0L179.1 227.0L180.1 227.0L181.1 227.0L181.9 227.0L182.7 227.0L183.5 227.0L184.1 227.0L184.6 227.0" fill="none" stroke="#555" stroke-width="0.7" stroke-linejoin="round"/>
<path d="M126.00 167.80V227.40" fill="none" stroke="#050505" stroke-width="1.35" stroke-linecap="butt"/>
<path d="M125.9 226.7L126.4 226.3L127.1 225.7L128.1 224.9L128.8 224.5L129.4 224.0L130.2 223.2L131.0 222.7L131.9 221.9L132.5 221.5L133.3 221.0L134.2 220.4L134.6 219.8L135.4 219.0L136.1 217.9L136.3 217.5L136.7 216.4L136.9 215.8L137.3 215.1L137.5 214.0L138.1 213.1L138.5 212.2L138.8 211.3L139.1 210.0L139.2 209.2L139.4 208.3L139.7 207.5L139.9 206.5L140.4 205.7L140.4 204.8L140.7 204.0L141.0 203.0L141.3 201.9L141.3 200.9L141.7 199.9L141.7 199.1L141.9 197.8L142.1 197.1L142.3 196.1L142.5 195.2L142.6 194.3L142.8 193.2L143.2 192.5L143.1 191.3L143.2 190.2L143.5 189.5L143.5 188.4L143.9 187.3L144.0 186.5L144.2 185.8L144.4 184.9L144.3 184.1L144.7 182.7L144.8 181.5L145.1 180.2L145.5 179.0L145.7 177.8L145.9 176.8L146.0 176.0L146.1 175.2L146.4 174.7L146.7 174.7L146.8 174.8L146.8 174.9L147.0 175.9L147.2 176.9L147.3 177.7L147.6 179.1L147.6 180.3L147.8 181.5L148.1 183.1L148.1 183.6L148.3 184.5L148.4 185.3L148.3 186.3L148.4 187.3L148.5 188.0L148.6 188.9L149.0 189.9L148.9 190.9L149.0 192.0L149.2 193.1L149.5 194.1L149.7 195.2L149.6 196.2L149.8 197.0L150.0 197.9L150.1 199.1L150.2 200.0L150.3 200.9L150.2 201.9L150.4 203.1L150.7 204.1L150.6 205.2L151.0 205.9L151.0 206.9L150.9 208.0L151.3 208.9L151.2 210.0L151.4 210.8L151.4 211.7L151.6 212.9L151.7 213.6L151.9 214.4L152.1 214.8L152.2 216.5L152.5 217.6L152.5 218.6L152.9 219.4L153.2 220.0L153.4 220.6L153.9 221.5L154.1 222.1L154.7 223.0L155.3 223.7L156.3 224.3L157.1 224.5L157.9 224.8L159.0 225.2L160.0 225.2L161.0 225.3L162.0 225.7L163.1 226.0L164.1 226.3L165.0 226.6L165.9 226.8L166.7 226.9L168.0 227.0L168.8 227.0L169.6 227.0L170.6 227.0L171.7 227.0L172.7 227.0L173.8 227.0L174.9 227.0L176.0 227.0L177.0 227.0L178.0 227.0L179.1 227.0L180.3 227.0L181.3 227.0L182.3 227.0L183.3 227.0L184.0 227.0L184.6 227.0" fill="none" stroke="#050505" stroke-width="1.30" stroke-linejoin="round" stroke-linecap="round"/>
<path d="M194.40 168.20H253.80" stroke="#808080" stroke-width="0.9" fill="none"/>
<path d="M253.80 167.80V227.10" stroke="#505050" stroke-width="0.9" fill="none"/>
<path d="M194.40 227.10H253.80" stroke="#666" stroke-width="0.8" fill="none"/>
<text x="187.10" y="172.90" font-size="3.2" font-weight="bold" fill="#222" textLength="4.0" lengthAdjust="spacingAndGlyphs">100</text>
<path d="M194.40 171.80 h-1.4" stroke="#888" stroke-width="0.4"/>
<text x="188.20" y="183.96" font-size="3.2" font-weight="bold" fill="#222" textLength="2.9" lengthAdjust="spacingAndGlyphs">80</text>
<path d="M194.40 182.86 h-1.4" stroke="#888" stroke-width="0.4"/>
<text x="188.20" y="195.02" font-size="3.2" font-weight="bold" fill="#222" textLength="2.9" lengthAdjust="spacingAndGlyphs">60</text>
<path d="M194.40 193.92 h-1.4" stroke="#888" stroke-width="0.4"/>
<text x="188.20" y="206.08" font-size="3.2" font-weight="bold" fill="#222" textLength="2.9" lengthAdjust="spacingAndGlyphs">40</text>
<path d="M194.40 204.98 h-1.4" stroke="#888" stroke-width="0.4"/>
<text x="188.20" y="217.14" font-size="3.2" font-weight="bold" fill="#222" textLength="2.9" lengthAdjust="spacingAndGlyphs">20</text>
<path d="M194.40 216.04 h-1.4" stroke="#888" stroke-width="0.4"/>
<text x="201.40" y="234.70" font-size="2.8" text-anchor="middle" fill="#444">10<tspan dy="-1.3" font-size="2.1">1</tspan></text>
<text x="212.70" y="234.70" font-size="2.8" text-anchor="middle" fill="#444">10<tspan dy="-1.3" font-size="2.1">2</tspan></text>
<text x="224.00" y="234.70" font-size="2.8" text-anchor="middle" fill="#444">10<tspan dy="-1.3" font-size="2.1">3</tspan></text>
<text x="235.30" y="234.70" font-size="2.8" text-anchor="middle" fill="#444">10<tspan dy="-1.3" font-size="2.1">4</tspan></text>
<text x="246.60" y="234.70" font-size="2.8" text-anchor="middle" fill="#444">10<tspan dy="-1.3" font-size="2.1">5</tspan></text>
<path d="M194.50 167.80V227.40" fill="none" stroke="#050505" stroke-width="1.35" stroke-linecap="butt"/>
<path d="M194.4 226.7L195.0 226.3L195.9 225.7L196.9 225.2L197.9 224.6L198.6 223.9L199.2 223.2L200.0 222.6L201.2 222.0L201.5 221.3L202.0 220.7L202.6 220.1L203.2 219.4L204.0 218.6L204.3 218.0L204.9 217.0L205.3 216.3L205.5 215.4L206.1 214.6L206.3 213.7L206.5 212.8L206.9 211.8L207.2 210.9L207.4 210.1L207.9 209.0L207.9 208.1L208.3 207.2L208.5 206.3L208.7 205.5L209.0 204.5L208.9 203.8L209.3 202.9L209.5 202.0L209.6 201.1L209.8 200.0L209.9 198.9L210.1 198.0L210.3 197.0L210.7 196.2L210.8 195.1L211.0 194.3L211.2 193.2L211.3 192.3L211.6 191.3L211.8 190.4L211.8 189.2L212.1 188.2L212.3 187.4L212.3 186.4L212.4 185.5L212.7 184.4L212.7 183.9L213.1 183.0L213.2 181.7L213.5 180.8L213.9 179.5L214.0 178.6L214.4 178.0L214.7 177.2L214.7 176.4L214.9 175.9L215.8 174.3L216.7 174.7L216.7 175.2L216.8 175.5L217.2 176.2L217.1 177.3L217.4 178.0L217.6 179.3L217.6 180.4L217.7 181.7L218.0 183.0L217.9 183.5L218.1 184.3L218.3 185.4L218.2 186.1L218.4 186.9L218.6 187.8L218.7 188.5L218.7 189.6L218.6 190.5L219.0 191.6L218.9 192.5L219.1 193.5L218.9 194.6L219.3 195.5L219.3 196.5L219.2 197.5L219.4 198.2L219.6 199.2L219.4 200.3L219.5 201.0L219.5 202.0L219.8 203.1L220.0 204.2L220.0 205.0L220.2 206.0L220.0 207.2L220.1 208.2L220.1 209.1L220.2 210.1L220.3 211.2L220.4 211.9L220.7 212.9L220.8 213.9L220.6 214.8L221.0 215.4L220.9 216.3L221.2 217.2L221.0 218.3L221.5 219.6L221.6 220.7L221.6 221.5L222.1 222.5L222.1 223.3L222.5 224.1L222.5 224.6L222.9 225.9L223.4 226.6L225.0 227.0L225.6 227.1L226.3 227.1L233.8 227.1L234.8 227.0L235.9 227.0L237.0 227.0L238.0 227.0L238.9 227.0L239.8 227.0L240.8 227.0L241.9 227.0L242.9 227.0L244.0 227.0L245.1 227.0L246.2 227.0L247.2 227.0L248.3 227.0L249.3 227.0L250.2 227.0L251.1 227.0L251.9 227.0L252.6 227.0L253.3 227.0L253.8 227.0" fill="none" stroke="#050505" stroke-width="1.50" stroke-linejoin="round" stroke-linecap="round"/>
<path d="M55.60 239.40H115.40" stroke="#808080" stroke-width="0.9" fill="none"/>
<path d="M115.40 239.00V298.70" stroke="#505050" stroke-width="0.9" fill="none"/>
<path d="M55.60 298.70H115.40" stroke="#666" stroke-width="0.8" fill="none"/>
<text x="48.30" y="244.10" font-size="3.2" font-weight="bold" fill="#222" textLength="4.0" lengthAdjust="spacingAndGlyphs">100</text>
<path d="M55.60 243.00 h-1.4" stroke="#888" stroke-width="0.4"/>
<text x="49.40" y="255.24" font-size="3.2" font-weight="bold" fill="#222" textLength="2.9" lengthAdjust="spacingAndGlyphs">80</text>
<path d="M55.60 254.14 h-1.4" stroke="#888" stroke-width="0.4"/>
<text x="49.40" y="266.38" font-size="3.2" font-weight="bold" fill="#222" textLength="2.9" lengthAdjust="spacingAndGlyphs">60</text>
<path d="M55.60 265.28 h-1.4" stroke="#888" stroke-width="0.4"/>
<text x="49.40" y="277.52" font-size="3.2" font-weight="bold" fill="#222" textLength="2.9" lengthAdjust="spacingAndGlyphs">40</text>
<path d="M55.60 276.42 h-1.4" stroke="#888" stroke-width="0.4"/>
<text x="49.40" y="288.66" font-size="3.2" font-weight="bold" fill="#222" textLength="2.9" lengthAdjust="spacingAndGlyphs">20</text>
<path d="M55.60 287.56 h-1.4" stroke="#888" stroke-width="0.4"/>
<text x="62.60" y="306.30" font-size="2.8" text-anchor="middle" fill="#444">10<tspan dy="-1.3" font-size="2.1">1</tspan></text>
<text x="73.90" y="306.30" font-size="2.8" text-anchor="middle" fill="#444">10<tspan dy="-1.3" font-size="2.1">2</tspan></text>
<text x="85.20" y="306.30" font-size="2.8" text-anchor="middle" fill="#444">10<tspan dy="-1.3" font-size="2.1">3</tspan></text>
<text x="96.50" y="306.30" font-size="2.8" text-anchor="middle" fill="#444">10<tspan dy="-1.3" font-size="2.1">4</tspan></text>
<text x="107.80" y="306.30" font-size="2.8" text-anchor="middle" fill="#444">10<tspan dy="-1.3" font-size="2.1">5</tspan></text>
<path d="M55.70 239.00V299.00" fill="none" stroke="#050505" stroke-width="1.35" stroke-linecap="butt"/>
<path d="M55.6 298.3L57.0 297.6L57.9 297.9L59.0 298.0L59.7 297.7L60.4 297.2L61.0 296.6L62.1 296.0L62.7 295.7L63.6 295.2L64.4 294.5L65.3 293.9L65.8 292.9L66.6 292.4L66.7 291.7L67.3 290.7L67.7 289.9L67.9 289.2L68.3 288.1L68.6 287.1L69.2 286.1L69.4 285.3L69.5 284.4L69.9 283.8L70.0 282.8L70.2 281.7L70.5 281.1L70.8 280.1L71.2 279.1L71.2 278.2L71.4 277.1L71.6 276.0L72.1 275.1L72.4 274.2L72.4 273.1L72.5 272.5L72.6 271.5L72.8 270.6L72.9 269.6L73.0 268.3L73.4 267.6L73.6 266.5L73.7 265.4L73.7 264.5L73.9 263.5L74.0 262.8L74.3 261.8L74.4 260.9L74.7 259.8L74.9 259.0L75.0 257.9L75.3 256.7L75.2 255.8L75.6 254.9L75.6 253.9L75.8 253.1L75.8 252.2L76.0 251.5L76.2 250.7L76.3 250.0L76.8 248.6L77.0 247.3L77.3 246.6L77.8 246.5L77.7 246.8L78.1 247.5L78.3 248.3L78.4 249.3L78.8 250.3L78.9 252.0L79.1 252.7L79.3 253.3L79.2 254.1L79.3 255.0L79.5 255.8L79.4 256.9L79.5 257.9L79.8 258.6L79.7 259.8L79.8 260.8L80.1 261.8L80.1 262.9L80.2 263.9L80.6 265.0L80.4 265.9L80.6 267.1L80.8 267.8L80.8 268.7L80.9 269.5L81.1 270.5L81.0 271.5L81.0 272.3L81.2 273.5L81.3 274.2L81.3 275.3L81.4 276.3L81.6 277.0L81.6 278.3L81.7 279.2L81.7 280.0L81.9 281.0L81.9 281.7L82.1 282.8L82.2 283.6L82.3 284.4L82.2 285.1L82.5 286.1L82.7 287.3L83.0 288.6L83.0 289.4L83.0 290.5L83.1 291.4L83.2 292.3L83.4 293.1L83.5 294.2L83.8 294.8L84.0 295.6L83.9 295.8L84.2 297.6L84.4 298.2L86.0 298.6L86.6 298.7L87.3 298.7L95.9 298.7L96.9 298.6L98.0 298.6L99.0 298.6L100.0 298.6L100.9 298.6L101.8 298.6L102.8 298.6L103.9 298.6L104.9 298.6L106.0 298.6L107.0 298.6L108.1 298.6L109.1 298.6L110.1 298.6L111.0 298.6L112.0 298.6L112.8 298.6L113.6 298.6L114.3 298.6L114.9 298.6L115.4 298.6" fill="none" stroke="#050505" stroke-width="1.50" stroke-linejoin="round" stroke-linecap="round"/>
<path d="M125.90 239.40H185.40" stroke="#808080" stroke-width="0.9" fill="none"/>
<path d="M185.40 239.00V298.70" stroke="#505050" stroke-width="0.9" fill="none"/>
<path d="M125.90 298.70H185.40" stroke="#666" stroke-width="0.8" fill="none"/>
<text x="118.60" y="244.10" font-size="3.2" font-weight="bold" fill="#222" textLength="4.0" lengthAdjust="spacingAndGlyphs">100</text>
<path d="M125.90 243.00 h-1.4" stroke="#888" stroke-width="0.4"/>
<text x="119.70" y="255.24" font-size="3.2" font-weight="bold" fill="#222" textLength="2.9" lengthAdjust="spacingAndGlyphs">80</text>
<path d="M125.90 254.14 h-1.4" stroke="#888" stroke-width="0.4"/>
<text x="119.70" y="266.38" font-size="3.2" font-weight="bold" fill="#222" textLength="2.9" lengthAdjust="spacingAndGlyphs">60</text>
<path d="M125.90 265.28 h-1.4" stroke="#888" stroke-width="0.4"/>
<text x="119.70" y="277.52" font-size="3.2" font-weight="bold" fill="#222" textLength="2.9" lengthAdjust="spacingAndGlyphs">40</text>
<path d="M125.90 276.42 h-1.4" stroke="#888" stroke-width="0.4"/>
<text x="119.70" y="288.66" font-size="3.2" font-weight="bold" fill="#222" textLength="2.9" lengthAdjust="spacingAndGlyphs">20</text>
<path d="M125.90 287.56 h-1.4" stroke="#888" stroke-width="0.4"/>
<text x="132.90" y="306.30" font-size="2.8" text-anchor="middle" fill="#444">10<tspan dy="-1.3" font-size="2.1">1</tspan></text>
<text x="144.20" y="306.30" font-size="2.8" text-anchor="middle" fill="#444">10<tspan dy="-1.3" font-size="2.1">2</tspan></text>
<text x="155.50" y="306.30" font-size="2.8" text-anchor="middle" fill="#444">10<tspan dy="-1.3" font-size="2.1">3</tspan></text>
<text x="166.80" y="306.30" font-size="2.8" text-anchor="middle" fill="#444">10<tspan dy="-1.3" font-size="2.1">4</tspan></text>
<text x="178.10" y="306.30" font-size="2.8" text-anchor="middle" fill="#444">10<tspan dy="-1.3" font-size="2.1">5</tspan></text>
<path d="M125.4 298.6L126.0 298.3L126.9 297.9L128.0 297.4L128.8 297.1L130.1 296.6L131.1 296.6L131.9 296.1L133.0 295.4L133.7 295.0L134.6 294.3L135.3 293.6L135.8 293.0L136.4 292.3L136.8 291.9L137.3 291.0L137.7 290.3L138.0 289.4L138.4 288.4L139.0 287.0L139.1 286.4L139.3 285.6L139.8 284.8L140.2 283.9L140.0 283.0L140.2 282.1L140.8 280.8L140.7 280.1L141.1 279.1L141.5 278.2L141.6 277.1L142.0 276.1L141.9 275.2L142.1 274.3L142.3 273.2L142.3 272.2L142.9 271.4L143.0 270.4L143.1 269.5L143.0 268.5L143.4 267.4L143.7 266.5L143.7 265.9L143.9 264.7L143.8 264.0L144.1 262.9L144.1 262.3L144.2 261.3L144.8 260.2L145.0 259.1L144.9 258.1L145.3 257.4L145.6 256.5L145.7 255.3L145.8 254.4L146.2 253.7L146.2 253.1L146.6 252.2L146.6 251.6L147.0 250.0L147.1 248.9L147.6 247.4L147.6 245.8L148.1 245.0L148.2 244.7L148.6 244.9L148.5 245.5L148.7 246.0L148.6 246.2L148.9 247.1L149.2 247.9L148.9 248.7L149.1 249.8L149.5 250.9L149.3 251.8L149.5 253.1L149.6 254.1L149.9 255.0L150.0 256.2L149.9 257.4L150.0 258.7L150.4 260.1L150.3 261.0L150.6 261.7L150.5 262.6L150.8 263.5L150.8 264.3L150.7 265.3L150.7 266.1L150.8 267.4L151.0 268.4L150.9 269.1L151.0 270.2L151.0 271.3L151.2 272.0L151.3 273.1L151.2 274.1L151.5 275.4L151.5 276.0L151.3 277.0L151.5 278.0L151.7 278.8L151.6 280.0L152.0 280.7L152.1 281.5L152.0 282.2L152.1 283.2L152.2 284.4L152.3 285.4L152.5 286.7L152.3 287.5L152.4 288.6L152.6 289.6L152.7 290.6L152.8 291.8L152.9 292.3L153.3 293.3L153.4 294.0L153.2 294.6L153.7 295.2L153.6 295.9L153.7 297.7L153.8 298.3L155.0 298.6L155.6 298.7L162.5 298.7L163.6 298.6L164.8 298.6L166.0 298.6L166.8 298.6L167.6 298.6L168.6 298.6L169.5 298.6L170.6 298.6L171.6 298.6L172.7 298.6L173.8 298.6L174.9 298.6L176.0 298.6L177.1 298.6L178.1 298.6L179.2 298.6L180.1 298.6L181.1 298.6L181.9 298.6L182.7 298.6L183.5 298.6L184.1 298.6L184.6 298.6" fill="none" stroke="#555" stroke-width="0.7" stroke-linejoin="round"/>
<path d="M126.00 239.00V299.00" fill="none" stroke="#050505" stroke-width="1.35" stroke-linecap="butt"/>
<path d="M125.9 298.3L126.7 297.9L128.0 297.4L128.9 297.1L130.0 296.7L131.0 296.6L132.0 296.2L132.7 295.7L133.6 295.2L134.5 294.4L135.4 293.7L136.0 293.1L136.4 292.2L137.1 291.6L137.4 290.9L137.7 290.3L138.1 289.2L138.7 288.4L138.9 287.2L139.1 286.4L139.5 285.4L139.7 284.6L140.0 283.8L140.2 283.0L140.4 281.8L140.7 281.1L140.8 280.0L141.3 278.9L141.5 278.0L141.5 277.1L141.9 276.0L141.9 274.9L142.0 274.2L142.4 273.1L142.5 272.4L142.8 271.4L143.0 270.2L143.2 269.4L143.1 268.4L143.3 267.4L143.6 266.5L143.7 265.6L143.9 264.5L143.8 263.7L143.9 262.7L144.1 261.8L144.5 260.8L144.6 259.9L144.9 259.0L145.1 257.7L145.2 256.9L145.3 256.1L145.6 255.1L145.7 254.3L146.1 253.3L146.2 252.5L146.3 251.7L146.6 251.0L147.0 249.9L147.2 248.7L147.4 247.6L147.7 246.4L147.7 245.2L148.1 244.4L148.1 244.2L148.3 244.0L148.5 244.3L148.9 244.5L148.9 245.4L149.1 246.2L149.2 246.9L149.3 248.1L149.6 249.3L149.9 250.3L150.1 251.5L150.4 253.1L150.2 253.7L150.3 254.4L150.7 255.2L150.6 255.9L150.6 256.9L150.8 258.0L151.0 258.9L151.1 259.8L151.1 260.4L151.4 261.6L151.3 262.4L151.5 263.7L151.7 264.5L151.8 265.4L151.8 266.3L152.0 267.2L152.1 268.2L152.0 269.3L152.4 270.1L152.6 271.1L152.5 272.0L152.5 272.9L152.9 274.0L153.1 275.0L153.0 276.0L153.3 277.1L153.2 278.0L153.5 279.0L153.7 280.0L153.8 281.2L153.8 282.1L154.0 283.0L154.1 284.0L154.1 284.7L154.2 285.5L154.6 286.2L154.7 286.9L154.8 288.3L155.2 289.5L155.1 290.7L155.6 291.7L155.8 292.4L156.1 293.1L156.2 293.8L156.4 294.5L157.3 295.6L158.0 296.3L158.8 297.0L159.8 297.4L160.6 297.8L161.4 298.1L162.3 298.3L163.3 298.5L164.4 298.6L165.2 298.7L166.0 298.7L166.8 298.7L167.7 298.7L168.7 298.7L169.7 298.6L170.8 298.6L172.0 298.6L172.8 298.6L173.8 298.6L174.8 298.6L175.9 298.6L177.1 298.6L178.2 298.6L179.3 298.6L180.4 298.6L181.5 298.6L182.5 298.6L183.3 298.6L184.0 298.6L184.6 298.6" fill="none" stroke="#050505" stroke-width="1.30" stroke-linejoin="round" stroke-linecap="round"/>
<path d="M194.40 239.40H253.80" stroke="#808080" stroke-width="0.9" fill="none"/>
<path d="M253.80 239.00V298.70" stroke="#505050" stroke-width="0.9" fill="none"/>
<path d="M194.40 298.70H253.80" stroke="#666" stroke-width="0.8" fill="none"/>
<text x="187.10" y="244.10" font-size="3.2" font-weight="bold" fill="#222" textLength="4.0" lengthAdjust="spacingAndGlyphs">100</text>
<path d="M194.40 243.00 h-1.4" stroke="#888" stroke-width="0.4"/>
<text x="188.20" y="255.24" font-size="3.2" font-weight="bold" fill="#222" textLength="2.9" lengthAdjust="spacingAndGlyphs">80</text>
<path d="M194.40 254.14 h-1.4" stroke="#888" stroke-width="0.4"/>
<text x="188.20" y="266.38" font-size="3.2" font-weight="bold" fill="#222" textLength="2.9" lengthAdjust="spacingAndGlyphs">60</text>
<path d="M194.40 265.28 h-1.4" stroke="#888" stroke-width="0.4"/>
<text x="188.20" y="277.52" font-size="3.2" font-weight="bold" fill="#222" textLength="2.9" lengthAdjust="spacingAndGlyphs">40</text>
<path d="M194.40 276.42 h-1.4" stroke="#888" stroke-width="0.4"/>
<text x="188.20" y="288.66" font-size="3.2" font-weight="bold" fill="#222" textLength="2.9" lengthAdjust="spacingAndGlyphs">20</text>
<path d="M194.40 287.56 h-1.4" stroke="#888" stroke-width="0.4"/>
<text x="201.40" y="306.30" font-size="2.8" text-anchor="middle" fill="#444">10<tspan dy="-1.3" font-size="2.1">1</tspan></text>
<text x="212.70" y="306.30" font-size="2.8" text-anchor="middle" fill="#444">10<tspan dy="-1.3" font-size="2.1">2</tspan></text>
<text x="224.00" y="306.30" font-size="2.8" text-anchor="middle" fill="#444">10<tspan dy="-1.3" font-size="2.1">3</tspan></text>
<text x="235.30" y="306.30" font-size="2.8" text-anchor="middle" fill="#444">10<tspan dy="-1.3" font-size="2.1">4</tspan></text>
<text x="246.60" y="306.30" font-size="2.8" text-anchor="middle" fill="#444">10<tspan dy="-1.3" font-size="2.1">5</tspan></text>
<path d="M194.6 298.6L195.2 298.5L196.1 298.3L197.1 298.1L198.2 297.8L199.2 297.6L200.0 297.4L201.4 296.9L202.2 297.0L203.0 296.6L203.7 296.2L204.5 295.5L205.2 294.8L206.0 294.4L206.2 293.9L206.6 293.1L207.0 292.3L207.8 291.0L208.1 290.4L208.3 289.4L208.3 288.6L208.6 287.9L209.0 286.8L209.1 285.8L209.3 284.5L209.6 283.5L209.8 282.8L209.9 281.8L210.2 281.1L210.0 280.3L210.4 279.3L210.3 278.3L210.6 277.5L210.8 276.5L210.9 275.5L210.8 274.5L211.2 273.8L211.2 272.9L211.5 271.9L211.6 270.8L211.6 270.0L211.7 268.9L212.2 268.2L212.2 267.2L212.0 266.2L212.4 265.0L212.4 264.2L212.9 263.2L212.6 262.2L212.9 261.0L212.9 260.2L213.2 259.2L213.4 258.5L213.5 257.5L213.8 256.7L214.0 255.6L214.2 254.8L214.2 253.9L214.6 252.4L214.8 251.4L214.7 250.3L215.3 249.0L215.3 248.2L215.8 247.7L215.7 246.9L215.8 246.4L216.2 246.7L216.8 246.7L216.9 247.9L217.1 249.3L217.2 250.9L217.3 251.8L217.7 252.3L217.5 253.3L217.9 254.1L218.1 254.9L218.0 255.9L217.9 256.9L218.1 257.7L218.4 258.5L218.3 259.9L218.4 261.0L218.6 261.7L218.6 262.9L218.8 264.1L218.8 264.8L219.1 265.9L219.1 267.1L219.1 267.7L219.2 268.7L219.1 269.7L219.2 270.9L219.5 271.8L219.7 272.6L219.5 273.8L219.6 274.9L219.6 275.8L219.7 276.8L219.7 277.9L219.7 278.7L219.9 279.7L220.2 280.8L220.3 281.6L220.1 282.2L220.2 283.4L220.3 283.9L220.5 285.2L220.5 286.3L220.8 287.5L220.7 288.4L220.8 289.6L221.2 290.8L221.3 291.5L221.6 292.4L221.7 293.0L221.9 294.0L221.9 294.7L222.3 295.7L222.7 296.9L223.2 297.6L223.8 298.2L224.8 298.6L225.4 298.7L231.4 298.7L232.6 298.6L234.0 298.6L234.7 298.6L235.5 298.6L236.3 298.6L237.2 298.6L238.2 298.6L239.2 298.6L240.2 298.6L241.3 298.6L242.3 298.6L243.4 298.6L244.5 298.6L245.5 298.6L246.6 298.6L247.6 298.6L248.6 298.6L249.5 298.6L250.4 298.6L251.3 298.6L252.0 298.6L252.7 298.6L253.3 298.6L253.8 298.6" fill="none" stroke="#555" stroke-width="0.7" stroke-linejoin="round"/>
<path d="M194.50 239.00V299.00" fill="none" stroke="#050505" stroke-width="1.35" stroke-linecap="butt"/>
<path d="M194.4 298.3L195.6 298.4L196.2 298.4L197.0 298.3L198.0 298.3L199.0 298.2L200.1 298.1L201.2 298.0L202.2 297.9L203.2 297.8L204.0 297.6L205.0 297.3L205.9 296.9L206.9 296.7L207.5 296.0L208.3 295.8L209.1 295.1L209.7 294.5L210.0 293.8L210.6 293.2L211.0 292.5L211.7 291.6L212.1 290.8L212.6 290.0L213.2 289.0L213.1 288.1L213.7 287.3L214.0 286.6L214.1 285.7L214.6 284.9L214.7 283.9L215.0 282.9L215.3 281.9L215.4 280.9L215.7 279.9L215.9 278.9L216.2 278.3L216.4 277.2L216.6 276.3L216.6 275.5L217.0 274.6L217.2 273.4L217.5 272.4L217.4 271.4L217.6 270.5L218.0 269.5L218.1 268.6L218.2 267.7L218.4 266.9L218.7 266.2L218.7 265.0L219.0 264.1L219.0 263.0L219.3 261.9L219.6 261.0L219.7 260.1L220.0 259.1L220.0 258.3L220.4 257.8L220.3 257.0L220.7 255.4L221.3 254.9L221.6 254.0L221.9 253.1L222.1 252.2L222.3 251.0L222.6 249.9L222.8 248.9L223.4 247.5L223.6 246.5L224.0 245.9L224.4 246.2L225.1 247.4L225.6 249.1L225.7 249.8L226.0 250.5L226.0 251.1L226.4 251.9L226.6 252.6L226.5 253.7L226.8 254.8L227.2 255.6L227.3 256.8L227.6 257.9L227.5 259.2L227.6 259.7L227.9 260.7L228.1 261.4L228.2 262.5L228.2 263.2L228.4 264.3L228.3 265.2L228.7 266.2L228.6 267.5L228.9 268.3L228.8 269.4L229.0 270.4L229.2 271.2L229.4 272.4L229.4 273.1L229.5 274.3L229.5 274.9L229.8 276.1L230.0 277.0L230.1 278.0L230.0 279.2L230.2 280.2L230.4 281.0L230.7 281.9L230.9 282.9L230.7 283.8L230.9 284.7L231.2 285.6L231.2 286.6L231.3 287.1L231.5 287.8L232.0 289.1L231.9 290.4L232.2 291.3L232.5 292.3L232.6 293.3L232.9 294.1L233.3 295.1L233.6 295.6L234.1 296.7L234.8 297.6L235.5 298.2L236.6 298.6L237.3 298.7L241.9 298.7L242.9 298.6L244.0 298.6L244.9 298.6L246.0 298.6L247.1 298.6L248.2 298.6L249.4 298.6L250.5 298.6L251.5 298.6L252.4 298.6L253.2 298.6L253.8 298.6" fill="none" stroke="#050505" stroke-width="1.30" stroke-linejoin="round" stroke-linecap="round"/>
<text x="17.6" y="60.9" font-size="10.6" fill="#111" stroke="#111" stroke-width="0.25">B6</text>
<text x="5.6" y="133.1" font-size="10.6" fill="#111" stroke="#111" stroke-width="0.25">BALB/c</text>
<text x="4.4" y="203.5" font-size="10.6" fill="#111" stroke="#111" stroke-width="0.25">B10.D2</text>
<text x="10.6" y="268.3" font-size="10.6" fill="#111" stroke="#111" stroke-width="0.25">C.B10</text>
<text transform="translate(42.3 181.2) rotate(-90)" font-size="10.4" fill="#111" stroke="#111" stroke-width="0.25">% Max</text>
<text x="60.5" y="317.3" textLength="45.8" font-size="10.0" fill="#111" stroke="#111" stroke-width="0.25" lengthAdjust="spacingAndGlyphs">Pan-Rae1</text>
<text x="143.2" y="317.3" textLength="24.3" font-size="10.0" fill="#111" stroke="#111" stroke-width="0.25" lengthAdjust="spacingAndGlyphs">Mult1</text>
<text x="214.9" y="317.3" textLength="18.8" font-size="10.0" fill="#111" stroke="#111" stroke-width="0.25" lengthAdjust="spacingAndGlyphs">H60</text>
</g>
<g id="panelB">
<text x="274.5" y="11.1" font-size="13.2" font-weight="bold" fill="#0a0a0a" stroke="#0a0a0a" stroke-width="0.45">B</text>
<text transform="translate(301.0 119.2) rotate(-90)" font-size="10.8" fill="#111" stroke="#111" stroke-width="0.3">% Specific CD107a</text>
<path d="M321.4 21 V121.4 H498.5" fill="none" stroke="#555" stroke-width="0.9"/>
<path d="M321.4 121.40 h-2.4" stroke="#555" stroke-width="0.8"/>
<text x="315.4" y="123.70" font-size="6.6" text-anchor="end" fill="#111">0</text>
<path d="M321.4 71.20 h-2.4" stroke="#555" stroke-width="0.8"/>
<text x="315.4" y="73.50" font-size="6.6" text-anchor="end" fill="#111">10</text>
<path d="M321.4 21.00 h-2.4" stroke="#555" stroke-width="0.8"/>
<text x="315.4" y="23.30" font-size="6.6" text-anchor="end" fill="#111">20</text>
<rect x="328.60" y="88.00" width="10.40" height="33.40" fill="#fff" stroke="#000" stroke-width="1.0"/><path d="M333.80 88.00 V83.60 M332.50 83.60 h2.60" stroke="#3a3a3a" stroke-width="1.0" fill="none"/>
<rect x="339.00" y="93.00" width="10.40" height="28.40" fill="#000" stroke="#000" stroke-width="1.0"/><path d="M344.20 93.00 V90.00 M342.90 90.00 h2.60" stroke="#3a3a3a" stroke-width="1.0" fill="none"/>
<rect x="364.60" y="92.00" width="10.40" height="29.40" fill="#fff" stroke="#000" stroke-width="1.0"/><path d="M369.80 92.00 V86.60 M368.50 86.60 h2.60" stroke="#3a3a3a" stroke-width="1.0" fill="none"/>
<path d="M379.7 121.4 V113 M378.4 113 h2.6" stroke="#3a3a3a" stroke-width="1.0" fill="none"/>
<rect x="399.60" y="120.00" width="10.40" height="1.40" fill="#fff" stroke="#000" stroke-width="1.0"/><path d="M404.80 120.00 V115.60 M403.50 115.60 h2.60" stroke="#3a3a3a" stroke-width="1.0" fill="none"/>
<rect x="410.00" y="119.00" width="10.40" height="2.40" fill="#000" stroke="#000" stroke-width="1.0"/><path d="M415.20 119.00 V116.00 M413.90 116.00 h2.60" stroke="#3a3a3a" stroke-width="1.0" fill="none"/>
<rect x="435.40" y="33.60" width="10.40" height="87.80" fill="#fff" stroke="#000" stroke-width="1.0"/><path d="M440.60 33.60 V28.40 M439.30 28.40 h2.60" stroke="#3a3a3a" stroke-width="1.0" fill="none"/>
<rect x="445.80" y="97.00" width="10.40" height="24.40" fill="#000" stroke="#000" stroke-width="1.0"/><path d="M451.00 97.00 V94.40 M449.70 94.40 h2.60" stroke="#3a3a3a" stroke-width="1.0" fill="none"/>
<text x="381.50" y="102.31" font-size="4.50" font-family="DejaVu Sans, sans-serif" text-anchor="middle" fill="#111" stroke="#111" stroke-width="0.32" stroke-linejoin="round">★</text>
<text x="449.40" y="87.91" font-size="4.50" font-family="DejaVu Sans, sans-serif" text-anchor="middle" fill="#111" stroke="#111" stroke-width="0.32" stroke-linejoin="round">★</text>
<text x="454.40" y="87.91" font-size="4.50" font-family="DejaVu Sans, sans-serif" text-anchor="middle" fill="#111" stroke="#111" stroke-width="0.32" stroke-linejoin="round">★</text>
<text x="334.2" y="137.0" textLength="9.4" font-size="7.6" font-weight="bold" fill="#1a1a1a" lengthAdjust="spacingAndGlyphs">B6</text>
<text x="361.1" y="137.0" textLength="27.2" font-size="7.6" font-weight="bold" fill="#1a1a1a" lengthAdjust="spacingAndGlyphs">BALB/c</text>
<text x="395.7" y="137.0" textLength="28.2" font-size="7.6" font-weight="bold" fill="#1a1a1a" lengthAdjust="spacingAndGlyphs">B10.D2</text>
<text x="434.7" y="137.0" textLength="21.9" font-size="7.6" font-weight="bold" fill="#1a1a1a" lengthAdjust="spacingAndGlyphs">C.B10</text>
<text x="399.5" y="152.8" font-size="8.2" fill="#444" textLength="22.5" lengthAdjust="spacingAndGlyphs">Target</text>
<rect x="464.9" y="56.0" width="3.7" height="3.7" fill="#fff" stroke="#000" stroke-width="1.0"/>
<rect x="464.4" y="68.2" width="4.6" height="4.6" fill="#000"/>
<text x="470.8" y="60.2" font-size="7.8" fill="#1a1a1a" textLength="12.2" lengthAdjust="spacingAndGlyphs">IgG</text>
<text x="470.8" y="73.0" font-size="7.8" fill="#1a1a1a" textLength="44.9" lengthAdjust="spacingAndGlyphs">anti-NKG2D</text>
</g>
<g id="panelC">
<text x="276.3" y="164.0" font-size="13.2" font-weight="bold" fill="#0a0a0a" stroke="#0a0a0a" stroke-width="0.45">C</text>
<text transform="translate(299.4 270.8) rotate(-90)" font-size="9.9" font-weight="bold" fill="#111">% Specific CD107a</text>
<path d="M320.6 178 V274.2 H500" fill="none" stroke="#555" stroke-width="0.9"/>
<path d="M320.6 274.20 h-2.4" stroke="#555" stroke-width="0.8"/>
<text x="314.8" y="276.50" font-size="6.6" font-weight="bold" text-anchor="end" fill="#222">0</text>
<path d="M320.6 246.55 h-2.4" stroke="#555" stroke-width="0.8"/>
<text x="314.8" y="248.85" font-size="6.6" font-weight="bold" text-anchor="end" fill="#222">10</text>
<path d="M320.6 218.90 h-2.4" stroke="#555" stroke-width="0.8"/>
<text x="314.8" y="221.20" font-size="6.6" font-weight="bold" text-anchor="end" fill="#222">20</text>
<path d="M320.6 191.25 h-2.4" stroke="#555" stroke-width="0.8"/>
<text x="314.8" y="193.55" font-size="6.6" font-weight="bold" text-anchor="end" fill="#222">30</text>
<rect x="327.20" y="249.40" width="10.20" height="24.80" fill="#a6a6a6" stroke="#000" stroke-width="0.8"/><path d="M332.30 249.40 V249.00 M331.00 249.00 h2.60" stroke="#3a3a3a" stroke-width="1.0" fill="none"/>
<rect x="337.40" y="251.60" width="10.40" height="22.60" fill="#000" stroke="#000" stroke-width="1.0"/><path d="M342.60 251.60 V250.40 M341.10 250.40 h3.00" stroke="#3a3a3a" stroke-width="1.0" fill="none"/>
<rect x="347.80" y="255.60" width="10.20" height="18.60" fill="#fff" stroke="#000" stroke-width="1.0"/><path d="M352.90 255.60 V246.00 M351.20 246.00 h3.40" stroke="#3a3a3a" stroke-width="1.0" fill="none"/>
<rect x="372.40" y="260.00" width="9.80" height="14.20" fill="#a6a6a6" stroke="#000" stroke-width="0.8"/><path d="M377.30 260.00 V259.60 M376.00 259.60 h2.60" stroke="#3a3a3a" stroke-width="1.0" fill="none"/>
<rect x="382.20" y="185.60" width="10.40" height="88.60" fill="#000" stroke="#000" stroke-width="1.0"/><path d="M387.40 185.60 V183.40 M385.70 183.40 h3.40" stroke="#3a3a3a" stroke-width="1.0" fill="none"/>
<rect x="392.60" y="202.40" width="10.00" height="71.80" fill="#fff" stroke="#000" stroke-width="1.0"/><path d="M397.60 202.40 V189.40 M395.80 189.40 h3.60" stroke="#3a3a3a" stroke-width="1.0" fill="none"/>
<rect x="417.20" y="271.00" width="10.00" height="3.20" fill="#a6a6a6" stroke="#000" stroke-width="0.8"/><path d="M422.20 271.00 V270.00 M420.90 270.00 h2.60" stroke="#3a3a3a" stroke-width="1.0" fill="none"/>
<rect x="427.20" y="263.60" width="10.60" height="10.60" fill="#000" stroke="#000" stroke-width="1.0"/><path d="M432.50 263.60 V260.40 M430.60 260.40 h3.80" stroke="#3a3a3a" stroke-width="1.0" fill="none"/>
<rect x="462.20" y="273.40" width="10.00" height="0.80" fill="#a6a6a6" stroke="#000" stroke-width="0.6"/><path d="M467.20 273.40 V273.00 M466.20 273.00 h2.00" stroke="#3a3a3a" stroke-width="1.0" fill="none"/>
<rect x="472.20" y="242.60" width="10.60" height="31.60" fill="#000" stroke="#000" stroke-width="1.0"/><path d="M477.50 242.60 V242.00 M476.00 242.00 h3.00" stroke="#3a3a3a" stroke-width="1.0" fill="none"/>
<text x="377.20" y="242.56" font-size="6.20" font-family="DejaVu Sans, sans-serif" text-anchor="middle" fill="#111" stroke="#111" stroke-width="0.43" stroke-linejoin="round">★</text>
<text x="473.90" y="231.58" font-size="6.00" font-family="DejaVu Sans, sans-serif" text-anchor="middle" fill="#111" stroke="#111" stroke-width="0.42" stroke-linejoin="round">★</text>
<text x="480.80" y="231.58" font-size="6.00" font-family="DejaVu Sans, sans-serif" text-anchor="middle" fill="#111" stroke="#111" stroke-width="0.42" stroke-linejoin="round">★</text>
<text x="440.0" y="273.0" font-size="6.6" fill="#222">NS</text>
<text x="485.0" y="273.0" font-size="6.6" fill="#222">NS</text>
<text x="327.1" y="288.6" font-size="7.3" fill="#111" stroke="#111" stroke-width="0.12" textLength="31.4" lengthAdjust="spacingAndGlyphs">BALB/c +</text>
<text x="337.0" y="299.4" font-size="7.3" fill="#111" stroke="#111" stroke-width="0.12" textLength="12.0" lengthAdjust="spacingAndGlyphs">IgG</text>
<text x="367.3" y="288.6" font-size="7.3" fill="#111" stroke="#111" stroke-width="0.12" textLength="25.4" lengthAdjust="spacingAndGlyphs">C.B10 +</text>
<text x="397.3" y="288.6" font-size="7.3" fill="#111" stroke="#111" stroke-width="0.12" textLength="11.5" lengthAdjust="spacingAndGlyphs">IgG</text>
<text x="417.1" y="288.6" font-size="7.3" fill="#111" stroke="#111" stroke-width="0.12" textLength="30.7" lengthAdjust="spacingAndGlyphs">BALB/c +</text>
<text x="412.6" y="299.4" font-size="7.3" fill="#111" stroke="#111" stroke-width="0.12" textLength="39.8" lengthAdjust="spacingAndGlyphs">anti-NKG2D</text>
<text x="464.6" y="288.6" font-size="7.3" fill="#111" stroke="#111" stroke-width="0.12" textLength="25.6" lengthAdjust="spacingAndGlyphs">C.B10 +</text>
<text x="457.3" y="299.4" font-size="7.3" fill="#111" stroke="#111" stroke-width="0.12" textLength="40.6" lengthAdjust="spacingAndGlyphs">anti-NKG2D</text>
<text x="396.2" y="316.4" font-size="9.9" font-weight="bold" fill="#111">Target</text>
<rect x="446.1" y="199.1" width="6.5" height="6.2" fill="#a6a6a6" stroke="#000" stroke-width="0.9"/>
<rect x="473.6" y="198.8" width="6.8" height="6.8" fill="#000"/>
<rect x="501.0" y="199.1" width="6.2" height="6.2" fill="#fff" stroke="#000" stroke-width="0.9"/>
<text x="456.2" y="205.5" font-size="10.1" fill="#111" textLength="12.9" lengthAdjust="spacingAndGlyphs">C/I</text>
<text x="483.7" y="205.5" font-size="10.1" fill="#111" textLength="11.8" lengthAdjust="spacingAndGlyphs">G2</text>
<text x="510.3" y="205.5" font-size="10.1" fill="#111" textLength="6.5" lengthAdjust="spacingAndGlyphs">A</text>
</g>
</svg></body></html>
